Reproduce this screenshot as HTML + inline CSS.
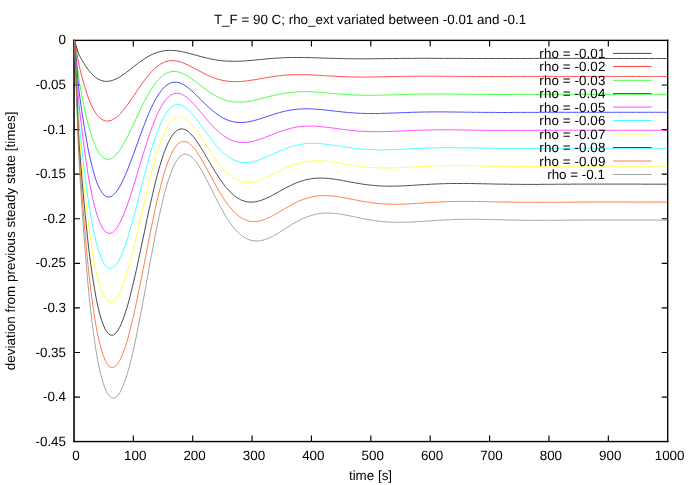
<!DOCTYPE html>
<html><head><meta charset="utf-8"><title>plot</title>
<style>html,body{margin:0;padding:0;background:#fff}svg{display:block;will-change:transform}text{font-family:"Liberation Sans",sans-serif;font-size:13.40px;fill:#000;text-rendering:geometricPrecision}</style></head>
<body>
<svg width="692" height="485" viewBox="0 0 692 485">
<rect x="0" y="0" width="692" height="485" fill="#ffffff"/>
<rect x="73.15" y="39.7" width="1.75" height="402.5" fill="#1c1c1c"/>
<rect x="667.05" y="39.7" width="1.35" height="402.5" fill="#000"/>
<rect x="73.2" y="39.7" width="595.2" height="1.35" fill="#000"/>
<rect x="73.2" y="440.85" width="595.2" height="1.4" fill="#000"/>
<path d="M133.32 441.55V435.55 M133.32 40.40V46.40 M192.70 441.55V435.55 M192.70 40.40V46.40 M252.07 441.55V435.55 M252.07 40.40V46.40 M311.45 441.55V435.55 M311.45 40.40V46.40 M370.82 441.55V435.55 M370.82 40.40V46.40 M430.20 441.55V435.55 M430.20 40.40V46.40 M489.57 441.55V435.55 M489.57 40.40V46.40 M548.95 441.55V435.55 M548.95 40.40V46.40 M608.33 441.55V435.55 M608.33 40.40V46.40 M73.95 84.97H79.95 M667.70 84.97H661.70 M73.95 129.56H79.95 M667.70 129.56H661.70 M73.95 174.16H79.95 M667.70 174.16H661.70 M73.95 218.75H79.95 M667.70 218.75H661.70 M73.95 263.34H79.95 M667.70 263.34H661.70 M73.95 307.94H79.95 M667.70 307.94H661.70 M73.95 352.53H79.95 M667.70 352.53H661.70 M73.95 397.13H79.95 M667.70 397.13H661.70" stroke="#000" stroke-width="1.15" fill="none"/>
<text x="370.05" y="24.3" text-anchor="middle">T_F = 90 C; rho_ext variated between -0.01 and -0.1</text>
<polyline fill="none" stroke="#000000" stroke-width="0.72" stroke-linejoin="round" points="74.5,40.5 78.5,53.6 79.2,55.1 79.8,56.2 80.4,57.3 81.0,58.4 81.6,59.5 82.2,60.5 82.8,61.5 83.4,62.5 84.0,63.5 84.6,64.4 85.2,65.4 85.8,66.3 86.4,67.1 87.0,68.0 87.5,68.8 88.1,69.6 88.7,70.4 89.3,71.1 89.9,71.8 90.5,72.5 91.1,73.2 91.7,73.8 92.3,74.5 92.9,75.0 93.5,75.6 94.1,76.1 94.7,76.6 95.3,77.1 95.8,77.6 96.4,78.0 97.0,78.4 97.6,78.8 98.2,79.1 99.4,79.7 100.6,80.2 101.8,80.7 103.0,81.0 104.2,81.2 105.3,81.3 106.5,81.4 107.7,81.3 108.9,81.2 110.1,81.0 111.3,80.7 112.5,80.4 113.6,79.9 114.8,79.5 116.0,78.9 117.2,78.3 118.4,77.7 119.6,77.0 120.8,76.3 121.9,75.5 123.1,74.7 124.3,73.8 125.5,73.0 126.7,72.1 127.9,71.2 129.1,70.3 130.2,69.4 131.4,68.4 132.6,67.5 133.8,66.6 135.0,65.6 136.2,64.7 137.4,63.8 138.5,62.9 139.7,62.0 140.9,61.2 142.1,60.4 143.3,59.5 144.5,58.8 145.7,58.0 146.8,57.3 148.0,56.6 149.2,55.9 150.4,55.3 151.6,54.7 152.8,54.2 154.0,53.7 155.1,53.2 156.3,52.7 157.5,52.3 158.7,52.0 159.9,51.7 161.1,51.4 162.3,51.1 163.4,50.9 164.6,50.7 165.8,50.6 167.0,50.5 168.2,50.4 169.4,50.4 170.6,50.4 171.8,50.4 172.9,50.5 174.1,50.5 175.3,50.6 176.5,50.8 177.7,50.9 178.9,51.1 180.1,51.3 181.2,51.5 182.4,51.8 183.6,52.0 184.8,52.3 186.0,52.6 187.2,52.9 188.4,53.2 189.5,53.5 190.7,53.8 191.9,54.1 193.1,54.4 194.3,54.8 195.5,55.1 196.7,55.4 197.8,55.7 199.0,56.1 200.2,56.4 201.4,56.7 202.6,57.0 203.8,57.3 205.0,57.6 206.1,57.9 207.3,58.2 208.5,58.4 209.7,58.7 210.9,59.0 212.1,59.2 213.3,59.4 214.4,59.6 215.6,59.8 216.8,60.0 218.0,60.2 219.2,60.4 220.4,60.5 221.6,60.6 222.8,60.8 223.9,60.9 225.1,61.0 226.3,61.0 227.5,61.1 228.7,61.2 229.9,61.2 231.1,61.2 232.2,61.3 233.4,61.3 234.6,61.3 235.8,61.3 237.0,61.2 238.2,61.2 239.4,61.2 240.5,61.1 241.7,61.1 242.9,61.0 244.1,60.9 245.3,60.8 246.5,60.8 247.7,60.7 248.8,60.6 250.0,60.5 251.2,60.4 252.4,60.3 253.6,60.2 254.8,60.1 256.0,59.9 257.1,59.8 258.3,59.7 259.5,59.6 260.7,59.5 261.9,59.4 263.1,59.3 264.3,59.1 265.4,59.0 266.6,58.9 267.8,58.8 269.0,58.7 270.2,58.6 271.4,58.5 272.6,58.4 273.7,58.3 274.9,58.3 276.1,58.2 277.3,58.1 278.5,58.0 279.7,58.0 280.9,57.9 282.1,57.8 283.2,57.8 284.4,57.7 285.6,57.7 286.8,57.6 288.0,57.6 289.2,57.6 290.4,57.5 291.5,57.5 292.7,57.5 293.9,57.5 295.1,57.5 296.3,57.5 297.5,57.5 298.7,57.5 299.8,57.5 301.0,57.5 302.2,57.5 303.4,57.5 304.6,57.5 305.8,57.6 307.0,57.6 308.1,57.6 309.3,57.6 310.5,57.7 311.7,57.7 312.9,57.7 314.1,57.8 315.3,57.8 316.4,57.8 317.6,57.9 318.8,57.9 320.0,57.9 321.2,58.0 322.4,58.0 323.6,58.1 324.7,58.1 325.9,58.1 327.1,58.2 328.3,58.2 329.5,58.3 330.7,58.3 331.9,58.3 333.0,58.4 334.2,58.4 335.4,58.4 336.6,58.5 337.8,58.5 339.0,58.5 340.2,58.6 341.4,58.6 342.5,58.6 343.7,58.6 344.9,58.7 346.1,58.7 347.3,58.7 348.5,58.7 349.7,58.7 350.8,58.7 352.0,58.8 353.2,58.8 354.4,58.8 355.6,58.8 356.8,58.8 358.0,58.8 359.1,58.8 360.3,58.8 361.5,58.8 362.7,58.8 363.9,58.8 365.1,58.8 366.3,58.8 367.4,58.8 368.6,58.8 369.8,58.8 371.0,58.8 372.2,58.8 373.4,58.7 374.6,58.7 375.7,58.7 376.9,58.7 378.1,58.7 379.3,58.7 380.5,58.7 381.7,58.7 382.9,58.6 384.0,58.6 385.2,58.6 386.4,58.6 387.6,58.6 388.8,58.6 390.0,58.6 391.2,58.5 392.3,58.5 393.5,58.5 394.7,58.5 395.9,58.5 397.1,58.5 398.3,58.5 399.5,58.5 400.6,58.4 401.8,58.4 403.0,58.4 404.2,58.4 405.4,58.4 406.6,58.4 407.8,58.4 409.0,58.4 410.1,58.4 411.3,58.4 412.5,58.4 413.7,58.4 414.9,58.4 416.1,58.3 417.3,58.3 418.4,58.3 419.6,58.3 420.8,58.3 422.0,58.3 423.2,58.3 424.4,58.3 425.6,58.3 426.7,58.3 427.9,58.3 429.1,58.3 430.3,58.3 431.5,58.3 432.7,58.3 433.9,58.3 435.0,58.3 436.2,58.4 437.4,58.4 438.6,58.4 439.8,58.4 441.0,58.4 442.2,58.4 443.3,58.4 444.5,58.4 445.7,58.4 446.9,58.4 448.1,58.4 449.3,58.4 450.5,58.4 451.6,58.4 452.8,58.4 454.0,58.4 455.2,58.4 456.4,58.4 457.6,58.4 458.8,58.4 459.9,58.4 461.1,58.4 462.3,58.5 463.5,58.5 464.7,58.5 465.9,58.5 467.1,58.5 468.3,58.5 469.4,58.5 470.6,58.5 471.8,58.5 473.0,58.5 474.2,58.5 475.4,58.5 476.6,58.5 477.7,58.5 478.9,58.5 480.1,58.5 481.3,58.5 482.5,58.5 483.7,58.5 484.9,58.5 486.0,58.5 487.2,58.5 488.4,58.5 489.6,58.5 490.8,58.5 492.0,58.5 493.2,58.5 494.3,58.5 495.5,58.5 496.7,58.5 497.9,58.5 499.1,58.5 500.3,58.5 501.5,58.5 502.6,58.5 503.8,58.5 505.0,58.5 506.2,58.5 507.4,58.5 508.6,58.5 509.8,58.5 510.9,58.5 512.1,58.5 513.3,58.5 514.5,58.5 515.7,58.5 516.9,58.5 518.1,58.5 519.2,58.5 520.4,58.5 521.6,58.5 522.8,58.5 524.0,58.5 525.2,58.5 526.4,58.5 527.6,58.5 528.7,58.5 529.9,58.5 531.1,58.5 532.3,58.5 533.5,58.4 534.7,58.4 535.9,58.4 537.0,58.4 538.2,58.4 539.4,58.4 540.6,58.4 541.8,58.4 543.0,58.4 544.2,58.4 545.3,58.4 546.5,58.4 547.7,58.4 548.9,58.4 550.1,58.4 551.3,58.4 552.5,58.4 553.6,58.4 554.8,58.4 556.0,58.4 557.2,58.4 558.4,58.4 559.6,58.4 560.8,58.4 561.9,58.4 563.1,58.4 564.3,58.4 565.5,58.4 566.7,58.4 567.9,58.4 569.1,58.4 570.2,58.4 571.4,58.4 572.6,58.4 573.8,58.4 575.0,58.4 576.2,58.4 577.4,58.4 578.5,58.5 579.7,58.5 580.9,58.5 582.1,58.5 583.3,58.5 584.5,58.5 585.7,58.5 586.9,58.5 588.0,58.5 589.2,58.5 590.4,58.5 591.6,58.5 592.8,58.5 594.0,58.5 595.2,58.5 596.3,58.5 597.5,58.5 598.7,58.5 599.9,58.5 601.1,58.5 602.3,58.5 603.5,58.5 604.6,58.5 605.8,58.5 607.0,58.5 608.2,58.5 609.4,58.5 610.6,58.5 611.8,58.5 612.9,58.5 614.1,58.5 615.3,58.5 616.5,58.5 617.7,58.5 618.9,58.5 620.1,58.5 621.2,58.5 622.4,58.5 623.6,58.5 624.8,58.5 626.0,58.5 627.2,58.5 628.4,58.5 629.5,58.5 630.7,58.5 631.9,58.5 633.1,58.5 634.3,58.5 635.5,58.5 636.7,58.5 637.9,58.5 639.0,58.5 640.2,58.5 641.4,58.5 642.6,58.5 643.8,58.5 645.0,58.5 646.2,58.5 647.3,58.5 648.5,58.5 649.7,58.5 650.9,58.5 652.1,58.5 653.3,58.5 654.5,58.5 655.6,58.5 656.8,58.5 658.0,58.5 659.2,58.5 660.4,58.5 661.6,58.5 662.8,58.5 663.9,58.5 665.1,58.5 666.3,58.5 667.5,58.5"/>
<polyline fill="none" stroke="#ff0000" stroke-width="0.72" stroke-linejoin="round" points="74.5,40.5 78.5,62.2 79.2,65.7 79.8,68.3 80.4,70.7 81.0,73.1 81.6,75.5 82.2,77.8 82.8,80.0 83.4,82.2 84.0,84.3 84.6,86.3 85.2,88.3 85.8,90.2 86.4,92.1 87.0,93.8 87.5,95.6 88.1,97.2 88.7,98.8 89.3,100.3 89.9,101.8 90.5,103.2 91.1,104.6 91.7,105.9 92.3,107.1 92.9,108.3 93.5,109.4 94.1,110.4 94.7,111.4 95.3,112.4 95.8,113.3 96.4,114.1 97.0,114.9 97.6,115.6 98.2,116.3 99.4,117.5 100.6,118.5 101.8,119.4 103.0,120.0 104.2,120.5 105.3,120.9 106.5,121.0 107.7,121.0 108.9,120.9 110.1,120.7 111.3,120.3 112.5,119.7 113.6,119.1 114.8,118.3 116.0,117.5 117.2,116.5 118.4,115.5 119.6,114.3 120.8,113.1 121.9,111.8 123.1,110.4 124.3,108.9 125.5,107.4 126.7,105.9 127.9,104.3 129.1,102.6 130.2,100.9 131.4,99.2 132.6,97.5 133.8,95.7 135.0,94.0 136.2,92.2 137.4,90.4 138.5,88.7 139.7,87.0 140.9,85.3 142.1,83.6 143.3,81.9 144.5,80.3 145.7,78.7 146.8,77.2 148.0,75.7 149.2,74.3 150.4,72.9 151.6,71.6 152.8,70.4 154.0,69.2 155.1,68.1 156.3,67.1 157.5,66.1 158.7,65.3 159.9,64.5 161.1,63.8 162.3,63.1 163.4,62.5 164.6,62.0 165.8,61.6 167.0,61.3 168.2,61.0 169.4,60.8 170.6,60.7 171.8,60.6 172.9,60.6 174.1,60.7 175.3,60.8 176.5,61.0 177.7,61.2 178.9,61.5 180.1,61.9 181.2,62.2 182.4,62.7 183.6,63.1 184.8,63.6 186.0,64.1 187.2,64.7 188.4,65.2 189.5,65.8 190.7,66.4 191.9,67.0 193.1,67.7 194.3,68.3 195.5,68.9 196.7,69.6 197.8,70.2 199.0,70.9 200.2,71.5 201.4,72.1 202.6,72.7 203.8,73.4 205.0,73.9 206.1,74.5 207.3,75.1 208.5,75.6 209.7,76.1 210.9,76.6 212.1,77.1 213.3,77.6 214.4,78.0 215.6,78.4 216.8,78.8 218.0,79.2 219.2,79.5 220.4,79.8 221.6,80.1 222.8,80.4 223.9,80.6 225.1,80.8 226.3,81.0 227.5,81.2 228.7,81.3 229.9,81.4 231.1,81.5 232.2,81.6 233.4,81.6 234.6,81.6 235.8,81.6 237.0,81.6 238.2,81.6 239.4,81.5 240.5,81.5 241.7,81.4 242.9,81.3 244.1,81.2 245.3,81.0 246.5,80.9 247.7,80.7 248.8,80.6 250.0,80.4 251.2,80.2 252.4,80.1 253.6,79.9 254.8,79.7 256.0,79.5 257.1,79.3 258.3,79.0 259.5,78.8 260.7,78.6 261.9,78.4 263.1,78.2 264.3,78.0 265.4,77.8 266.6,77.6 267.8,77.4 269.0,77.2 270.2,77.0 271.4,76.8 272.6,76.6 273.7,76.5 274.9,76.3 276.1,76.1 277.3,76.0 278.5,75.8 279.7,75.7 280.9,75.6 282.1,75.5 283.2,75.3 284.4,75.2 285.6,75.1 286.8,75.1 288.0,75.0 289.2,74.9 290.4,74.8 291.5,74.8 292.7,74.7 293.9,74.7 295.1,74.7 296.3,74.7 297.5,74.6 298.7,74.6 299.8,74.6 301.0,74.6 302.2,74.7 303.4,74.7 304.6,74.7 305.8,74.7 307.0,74.8 308.1,74.8 309.3,74.9 310.5,74.9 311.7,75.0 312.9,75.0 314.1,75.1 315.3,75.1 316.4,75.2 317.6,75.3 318.8,75.3 320.0,75.4 321.2,75.5 322.4,75.6 323.6,75.6 324.7,75.7 325.9,75.8 327.1,75.8 328.3,75.9 329.5,76.0 330.7,76.0 331.9,76.1 333.0,76.2 334.2,76.2 335.4,76.3 336.6,76.4 337.8,76.4 339.0,76.5 340.2,76.5 341.4,76.6 342.5,76.6 343.7,76.7 344.9,76.7 346.1,76.8 347.3,76.8 348.5,76.8 349.7,76.9 350.8,76.9 352.0,76.9 353.2,76.9 354.4,76.9 355.6,77.0 356.8,77.0 358.0,77.0 359.1,77.0 360.3,77.0 361.5,77.0 362.7,77.0 363.9,77.0 365.1,77.0 366.3,77.0 367.4,77.0 368.6,77.0 369.8,77.0 371.0,77.0 372.2,76.9 373.4,76.9 374.6,76.9 375.7,76.9 376.9,76.9 378.1,76.9 379.3,76.8 380.5,76.8 381.7,76.8 382.9,76.8 384.0,76.7 385.2,76.7 386.4,76.7 387.6,76.7 388.8,76.6 390.0,76.6 391.2,76.6 392.3,76.6 393.5,76.5 394.7,76.5 395.9,76.5 397.1,76.5 398.3,76.5 399.5,76.4 400.6,76.4 401.8,76.4 403.0,76.4 404.2,76.4 405.4,76.3 406.6,76.3 407.8,76.3 409.0,76.3 410.1,76.3 411.3,76.3 412.5,76.3 413.7,76.3 414.9,76.3 416.1,76.2 417.3,76.2 418.4,76.2 419.6,76.2 420.8,76.2 422.0,76.2 423.2,76.2 424.4,76.2 425.6,76.2 426.7,76.2 427.9,76.2 429.1,76.2 430.3,76.2 431.5,76.2 432.7,76.2 433.9,76.2 435.0,76.2 436.2,76.2 437.4,76.2 438.6,76.2 439.8,76.3 441.0,76.3 442.2,76.3 443.3,76.3 444.5,76.3 445.7,76.3 446.9,76.3 448.1,76.3 449.3,76.3 450.5,76.3 451.6,76.3 452.8,76.3 454.0,76.3 455.2,76.4 456.4,76.4 457.6,76.4 458.8,76.4 459.9,76.4 461.1,76.4 462.3,76.4 463.5,76.4 464.7,76.4 465.9,76.4 467.1,76.4 468.3,76.4 469.4,76.4 470.6,76.4 471.8,76.4 473.0,76.4 474.2,76.5 475.4,76.5 476.6,76.5 477.7,76.5 478.9,76.5 480.1,76.5 481.3,76.5 482.5,76.5 483.7,76.5 484.9,76.5 486.0,76.5 487.2,76.5 488.4,76.5 489.6,76.5 490.8,76.5 492.0,76.5 493.2,76.5 494.3,76.5 495.5,76.5 496.7,76.5 497.9,76.5 499.1,76.5 500.3,76.5 501.5,76.5 502.6,76.5 503.8,76.5 505.0,76.5 506.2,76.5 507.4,76.5 508.6,76.5 509.8,76.5 510.9,76.4 512.1,76.4 513.3,76.4 514.5,76.4 515.7,76.4 516.9,76.4 518.1,76.4 519.2,76.4 520.4,76.4 521.6,76.4 522.8,76.4 524.0,76.4 525.2,76.4 526.4,76.4 527.6,76.4 528.7,76.4 529.9,76.4 531.1,76.4 532.3,76.4 533.5,76.4 534.7,76.4 535.9,76.4 537.0,76.4 538.2,76.4 539.4,76.4 540.6,76.4 541.8,76.4 543.0,76.4 544.2,76.4 545.3,76.4 546.5,76.4 547.7,76.4 548.9,76.4 550.1,76.4 551.3,76.4 552.5,76.4 553.6,76.4 554.8,76.4 556.0,76.4 557.2,76.4 558.4,76.4 559.6,76.4 560.8,76.4 561.9,76.4 563.1,76.4 564.3,76.4 565.5,76.4 566.7,76.4 567.9,76.4 569.1,76.4 570.2,76.4 571.4,76.4 572.6,76.4 573.8,76.4 575.0,76.4 576.2,76.4 577.4,76.4 578.5,76.4 579.7,76.4 580.9,76.4 582.1,76.4 583.3,76.4 584.5,76.4 585.7,76.4 586.9,76.4 588.0,76.4 589.2,76.4 590.4,76.4 591.6,76.4 592.8,76.4 594.0,76.4 595.2,76.4 596.3,76.4 597.5,76.4 598.7,76.4 599.9,76.4 601.1,76.4 602.3,76.4 603.5,76.4 604.6,76.4 605.8,76.4 607.0,76.4 608.2,76.4 609.4,76.4 610.6,76.4 611.8,76.4 612.9,76.4 614.1,76.4 615.3,76.4 616.5,76.4 617.7,76.4 618.9,76.4 620.1,76.4 621.2,76.4 622.4,76.4 623.6,76.4 624.8,76.4 626.0,76.4 627.2,76.4 628.4,76.4 629.5,76.4 630.7,76.4 631.9,76.4 633.1,76.4 634.3,76.4 635.5,76.4 636.7,76.4 637.9,76.4 639.0,76.4 640.2,76.4 641.4,76.4 642.6,76.4 643.8,76.4 645.0,76.4 646.2,76.4 647.3,76.4 648.5,76.4 649.7,76.4 650.9,76.4 652.1,76.4 653.3,76.4 654.5,76.4 655.6,76.4 656.8,76.4 658.0,76.4 659.2,76.4 660.4,76.4 661.6,76.4 662.8,76.4 663.9,76.4 665.1,76.4 666.3,76.4 667.5,76.4"/>
<polyline fill="none" stroke="#00ff00" stroke-width="0.72" stroke-linejoin="round" points="74.5,40.5 78.5,76.5 79.2,81.1 79.8,84.5 80.4,87.8 81.0,91.0 81.6,94.2 82.2,97.3 82.8,100.3 83.4,103.2 84.0,106.1 84.6,108.9 85.2,111.6 85.8,114.2 86.4,116.8 87.0,119.3 87.5,121.7 88.1,124.0 88.7,126.2 89.3,128.4 89.9,130.5 90.5,132.5 91.1,134.4 91.7,136.3 92.3,138.0 92.9,139.7 93.5,141.3 94.1,142.9 94.7,144.4 95.3,145.8 95.8,147.1 96.4,148.3 97.0,149.5 97.6,150.6 98.2,151.6 99.4,153.5 100.6,155.1 101.8,156.4 103.0,157.5 104.2,158.3 105.3,158.9 106.5,159.2 107.7,159.4 108.9,159.3 110.1,159.0 111.3,158.5 112.5,157.8 113.6,156.9 114.8,155.9 116.0,154.7 117.2,153.3 118.4,151.8 119.6,150.2 120.8,148.5 121.9,146.6 123.1,144.6 124.3,142.5 125.5,140.4 126.7,138.1 127.9,135.8 129.1,133.4 130.2,131.0 131.4,128.6 132.6,126.1 133.8,123.6 135.0,121.0 136.2,118.5 137.4,116.0 138.5,113.5 139.7,111.0 140.9,108.5 142.1,106.1 143.3,103.7 144.5,101.4 145.7,99.1 146.8,96.9 148.0,94.8 149.2,92.7 150.4,90.7 151.6,88.8 152.8,87.0 154.0,85.3 155.1,83.7 156.3,82.1 157.5,80.7 158.7,79.4 159.9,78.1 161.1,77.0 162.3,76.0 163.4,75.1 164.6,74.3 165.8,73.6 167.0,73.0 168.2,72.5 169.4,72.1 170.6,71.8 171.8,71.6 172.9,71.4 174.1,71.4 175.3,71.5 176.5,71.6 177.7,71.8 178.9,72.1 180.1,72.5 181.2,72.9 182.4,73.4 183.6,73.9 184.8,74.5 186.0,75.2 187.2,75.9 188.4,76.6 189.5,77.4 190.7,78.2 191.9,79.0 193.1,79.9 194.3,80.7 195.5,81.6 196.7,82.5 197.8,83.4 199.0,84.3 200.2,85.3 201.4,86.2 202.6,87.1 203.8,88.0 205.0,88.8 206.1,89.7 207.3,90.5 208.5,91.4 209.7,92.2 210.9,93.0 212.1,93.7 213.3,94.5 214.4,95.2 215.6,95.8 216.8,96.5 218.0,97.1 219.2,97.6 220.4,98.2 221.6,98.7 222.8,99.2 223.9,99.6 225.1,100.0 226.3,100.4 227.5,100.7 228.7,101.0 229.9,101.2 231.1,101.5 232.2,101.7 233.4,101.8 234.6,101.9 235.8,102.0 237.0,102.1 238.2,102.1 239.4,102.1 240.5,102.1 241.7,102.1 242.9,102.0 244.1,101.9 245.3,101.8 246.5,101.6 247.7,101.5 248.8,101.3 250.0,101.1 251.2,100.9 252.4,100.6 253.6,100.4 254.8,100.1 256.0,99.9 257.1,99.6 258.3,99.3 259.5,99.0 260.7,98.7 261.9,98.4 263.1,98.1 264.3,97.8 265.4,97.5 266.6,97.2 267.8,96.9 269.0,96.6 270.2,96.3 271.4,96.0 272.6,95.7 273.7,95.4 274.9,95.2 276.1,94.9 277.3,94.6 278.5,94.4 279.7,94.1 280.9,93.9 282.1,93.7 283.2,93.5 284.4,93.3 285.6,93.1 286.8,92.9 288.0,92.8 289.2,92.6 290.4,92.5 291.5,92.3 292.7,92.2 293.9,92.1 295.1,92.0 296.3,91.9 297.5,91.9 298.7,91.8 299.8,91.8 301.0,91.7 302.2,91.7 303.4,91.7 304.6,91.7 305.8,91.7 307.0,91.7 308.1,91.7 309.3,91.8 310.5,91.8 311.7,91.9 312.9,91.9 314.1,92.0 315.3,92.0 316.4,92.1 317.6,92.2 318.8,92.3 320.0,92.4 321.2,92.5 322.4,92.6 323.6,92.7 324.7,92.8 325.9,92.9 327.1,93.0 328.3,93.1 329.5,93.2 330.7,93.3 331.9,93.4 333.0,93.5 334.2,93.6 335.4,93.7 336.6,93.8 337.8,93.9 339.0,94.0 340.2,94.1 341.4,94.2 342.5,94.3 343.7,94.4 344.9,94.4 346.1,94.5 347.3,94.6 348.5,94.7 349.7,94.7 350.8,94.8 352.0,94.9 353.2,94.9 354.4,95.0 355.6,95.0 356.8,95.1 358.0,95.1 359.1,95.1 360.3,95.2 361.5,95.2 362.7,95.2 363.9,95.2 365.1,95.3 366.3,95.3 367.4,95.3 368.6,95.3 369.8,95.3 371.0,95.3 372.2,95.3 373.4,95.3 374.6,95.3 375.7,95.2 376.9,95.2 378.1,95.2 379.3,95.2 380.5,95.2 381.7,95.1 382.9,95.1 384.0,95.1 385.2,95.1 386.4,95.0 387.6,95.0 388.8,95.0 390.0,94.9 391.2,94.9 392.3,94.8 393.5,94.8 394.7,94.8 395.9,94.7 397.1,94.7 398.3,94.7 399.5,94.6 400.6,94.6 401.8,94.6 403.0,94.5 404.2,94.5 405.4,94.5 406.6,94.4 407.8,94.4 409.0,94.4 410.1,94.3 411.3,94.3 412.5,94.3 413.7,94.3 414.9,94.2 416.1,94.2 417.3,94.2 418.4,94.2 419.6,94.2 420.8,94.1 422.0,94.1 423.2,94.1 424.4,94.1 425.6,94.1 426.7,94.1 427.9,94.1 429.1,94.1 430.3,94.1 431.5,94.1 432.7,94.1 433.9,94.1 435.0,94.1 436.2,94.1 437.4,94.1 438.6,94.1 439.8,94.1 441.0,94.1 442.2,94.1 443.3,94.1 444.5,94.1 445.7,94.1 446.9,94.1 448.1,94.1 449.3,94.1 450.5,94.1 451.6,94.1 452.8,94.2 454.0,94.2 455.2,94.2 456.4,94.2 457.6,94.2 458.8,94.2 459.9,94.2 461.1,94.2 462.3,94.3 463.5,94.3 464.7,94.3 465.9,94.3 467.1,94.3 468.3,94.3 469.4,94.3 470.6,94.3 471.8,94.3 473.0,94.4 474.2,94.4 475.4,94.4 476.6,94.4 477.7,94.4 478.9,94.4 480.1,94.4 481.3,94.4 482.5,94.4 483.7,94.4 484.9,94.4 486.0,94.4 487.2,94.4 488.4,94.5 489.6,94.5 490.8,94.5 492.0,94.5 493.2,94.5 494.3,94.5 495.5,94.5 496.7,94.5 497.9,94.5 499.1,94.5 500.3,94.5 501.5,94.5 502.6,94.5 503.8,94.5 505.0,94.5 506.2,94.5 507.4,94.5 508.6,94.5 509.8,94.5 510.9,94.5 512.1,94.5 513.3,94.5 514.5,94.5 515.7,94.4 516.9,94.4 518.1,94.4 519.2,94.4 520.4,94.4 521.6,94.4 522.8,94.4 524.0,94.4 525.2,94.4 526.4,94.4 527.6,94.4 528.7,94.4 529.9,94.4 531.1,94.4 532.3,94.4 533.5,94.4 534.7,94.4 535.9,94.4 537.0,94.4 538.2,94.4 539.4,94.4 540.6,94.4 541.8,94.4 543.0,94.4 544.2,94.4 545.3,94.4 546.5,94.4 547.7,94.3 548.9,94.3 550.1,94.3 551.3,94.3 552.5,94.3 553.6,94.3 554.8,94.3 556.0,94.3 557.2,94.3 558.4,94.3 559.6,94.3 560.8,94.3 561.9,94.3 563.1,94.3 564.3,94.3 565.5,94.3 566.7,94.3 567.9,94.3 569.1,94.3 570.2,94.3 571.4,94.3 572.6,94.3 573.8,94.3 575.0,94.3 576.2,94.3 577.4,94.3 578.5,94.3 579.7,94.3 580.9,94.3 582.1,94.3 583.3,94.3 584.5,94.3 585.7,94.3 586.9,94.3 588.0,94.3 589.2,94.3 590.4,94.4 591.6,94.4 592.8,94.4 594.0,94.4 595.2,94.4 596.3,94.4 597.5,94.4 598.7,94.4 599.9,94.4 601.1,94.4 602.3,94.4 603.5,94.4 604.6,94.4 605.8,94.4 607.0,94.4 608.2,94.4 609.4,94.4 610.6,94.4 611.8,94.4 612.9,94.4 614.1,94.4 615.3,94.4 616.5,94.4 617.7,94.4 618.9,94.4 620.1,94.4 621.2,94.4 622.4,94.4 623.6,94.4 624.8,94.4 626.0,94.4 627.2,94.4 628.4,94.4 629.5,94.4 630.7,94.4 631.9,94.4 633.1,94.4 634.3,94.4 635.5,94.4 636.7,94.4 637.9,94.4 639.0,94.4 640.2,94.4 641.4,94.4 642.6,94.4 643.8,94.4 645.0,94.4 646.2,94.4 647.3,94.4 648.5,94.4 649.7,94.4 650.9,94.4 652.1,94.4 653.3,94.4 654.5,94.4 655.6,94.4 656.8,94.4 658.0,94.4 659.2,94.4 660.4,94.4 661.6,94.4 662.8,94.4 663.9,94.4 665.1,94.4 666.3,94.4 667.5,94.4"/>
<polyline fill="none" stroke="#0000ff" stroke-width="0.72" stroke-linejoin="round" points="74.5,40.5 78.5,86.4 79.2,92.5 79.8,96.9 80.4,101.2 81.0,105.5 81.6,109.6 82.2,113.7 82.8,117.7 83.4,121.5 84.0,125.3 84.6,128.9 85.2,132.5 85.8,136.0 86.4,139.3 87.0,142.6 87.5,145.7 88.1,148.8 88.7,151.7 89.3,154.6 89.9,157.3 90.5,160.0 91.1,162.5 91.7,165.0 92.3,167.4 92.9,169.6 93.5,171.8 94.1,173.8 94.7,175.8 95.3,177.7 95.8,179.5 96.4,181.1 97.0,182.7 97.6,184.2 98.2,185.7 99.4,188.2 100.6,190.4 101.8,192.3 103.0,193.9 104.2,195.1 105.3,196.0 106.5,196.7 107.7,197.0 108.9,197.1 110.1,196.9 111.3,196.4 112.5,195.7 113.6,194.7 114.8,193.5 116.0,192.2 117.2,190.6 118.4,188.8 119.6,186.8 120.8,184.7 121.9,182.4 123.1,179.9 124.3,177.3 125.5,174.6 126.7,171.8 127.9,168.9 129.1,165.9 130.2,162.8 131.4,159.7 132.6,156.5 133.8,153.3 135.0,150.0 136.2,146.7 137.4,143.4 138.5,140.1 139.7,136.9 140.9,133.6 142.1,130.4 143.3,127.3 144.5,124.2 145.7,121.2 146.8,118.2 148.0,115.3 149.2,112.5 150.4,109.8 151.6,107.3 152.8,104.8 154.0,102.4 155.1,100.2 156.3,98.1 157.5,96.1 158.7,94.2 159.9,92.5 161.1,90.9 162.3,89.4 163.4,88.1 164.6,86.9 165.8,85.9 167.0,85.0 168.2,84.2 169.4,83.5 170.6,83.0 171.8,82.6 172.9,82.3 174.1,82.2 175.3,82.2 176.5,82.2 177.7,82.4 178.9,82.7 180.1,83.1 181.2,83.5 182.4,84.1 183.6,84.7 184.8,85.5 186.0,86.2 187.2,87.1 188.4,88.0 189.5,88.9 190.7,89.9 191.9,91.0 193.1,92.1 194.3,93.2 195.5,94.3 196.7,95.5 197.8,96.6 199.0,97.8 200.2,99.0 201.4,100.2 202.6,101.4 203.8,102.6 205.0,103.7 206.1,104.9 207.3,106.0 208.5,107.1 209.7,108.2 210.9,109.3 212.1,110.3 213.3,111.3 214.4,112.2 215.6,113.1 216.8,114.0 218.0,114.9 219.2,115.7 220.4,116.4 221.6,117.1 222.8,117.8 223.9,118.4 225.1,119.0 226.3,119.5 227.5,120.0 228.7,120.5 229.9,120.9 231.1,121.2 232.2,121.5 233.4,121.8 234.6,122.0 235.8,122.2 237.0,122.3 238.2,122.4 239.4,122.5 240.5,122.5 241.7,122.5 242.9,122.5 244.1,122.4 245.3,122.3 246.5,122.1 247.7,121.9 248.8,121.7 250.0,121.5 251.2,121.3 252.4,121.0 253.6,120.7 254.8,120.4 256.0,120.1 257.1,119.7 258.3,119.4 259.5,119.0 260.7,118.6 261.9,118.3 263.1,117.9 264.3,117.5 265.4,117.1 266.6,116.7 267.8,116.3 269.0,115.9 270.2,115.5 271.4,115.1 272.6,114.7 273.7,114.3 274.9,114.0 276.1,113.6 277.3,113.2 278.5,112.9 279.7,112.6 280.9,112.2 282.1,111.9 283.2,111.6 284.4,111.3 285.6,111.1 286.8,110.8 288.0,110.6 289.2,110.4 290.4,110.1 291.5,110.0 292.7,109.8 293.9,109.6 295.1,109.5 296.3,109.3 297.5,109.2 298.7,109.1 299.8,109.0 301.0,109.0 302.2,108.9 303.4,108.9 304.6,108.8 305.8,108.8 307.0,108.8 308.1,108.8 309.3,108.9 310.5,108.9 311.7,108.9 312.9,109.0 314.1,109.1 315.3,109.1 316.4,109.2 317.6,109.3 318.8,109.4 320.0,109.5 321.2,109.6 322.4,109.7 323.6,109.8 324.7,110.0 325.9,110.1 327.1,110.2 328.3,110.4 329.5,110.5 330.7,110.6 331.9,110.8 333.0,110.9 334.2,111.0 335.4,111.2 336.6,111.3 337.8,111.5 339.0,111.6 340.2,111.7 341.4,111.8 342.5,112.0 343.7,112.1 344.9,112.2 346.1,112.3 347.3,112.4 348.5,112.5 349.7,112.6 350.8,112.7 352.0,112.8 353.2,112.9 354.4,113.0 355.6,113.0 356.8,113.1 358.0,113.2 359.1,113.2 360.3,113.3 361.5,113.3 362.7,113.4 363.9,113.4 365.1,113.4 366.3,113.5 367.4,113.5 368.6,113.5 369.8,113.5 371.0,113.5 372.2,113.5 373.4,113.5 374.6,113.5 375.7,113.5 376.9,113.5 378.1,113.5 379.3,113.5 380.5,113.4 381.7,113.4 382.9,113.4 384.0,113.3 385.2,113.3 386.4,113.3 387.6,113.2 388.8,113.2 390.0,113.1 391.2,113.1 392.3,113.1 393.5,113.0 394.7,113.0 395.9,112.9 397.1,112.9 398.3,112.8 399.5,112.8 400.6,112.7 401.8,112.7 403.0,112.6 404.2,112.6 405.4,112.6 406.6,112.5 407.8,112.5 409.0,112.4 410.1,112.4 411.3,112.3 412.5,112.3 413.7,112.3 414.9,112.2 416.1,112.2 417.3,112.2 418.4,112.1 419.6,112.1 420.8,112.1 422.0,112.1 423.2,112.0 424.4,112.0 425.6,112.0 426.7,112.0 427.9,112.0 429.1,112.0 430.3,111.9 431.5,111.9 432.7,111.9 433.9,111.9 435.0,111.9 436.2,111.9 437.4,111.9 438.6,111.9 439.8,111.9 441.0,111.9 442.2,111.9 443.3,111.9 444.5,111.9 445.7,111.9 446.9,111.9 448.1,112.0 449.3,112.0 450.5,112.0 451.6,112.0 452.8,112.0 454.0,112.0 455.2,112.0 456.4,112.0 457.6,112.1 458.8,112.1 459.9,112.1 461.1,112.1 462.3,112.1 463.5,112.1 464.7,112.2 465.9,112.2 467.1,112.2 468.3,112.2 469.4,112.2 470.6,112.2 471.8,112.3 473.0,112.3 474.2,112.3 475.4,112.3 476.6,112.3 477.7,112.3 478.9,112.3 480.1,112.3 481.3,112.4 482.5,112.4 483.7,112.4 484.9,112.4 486.0,112.4 487.2,112.4 488.4,112.4 489.6,112.4 490.8,112.4 492.0,112.4 493.2,112.4 494.3,112.4 495.5,112.5 496.7,112.5 497.9,112.5 499.1,112.5 500.3,112.5 501.5,112.5 502.6,112.5 503.8,112.5 505.0,112.5 506.2,112.5 507.4,112.5 508.6,112.5 509.8,112.5 510.9,112.5 512.1,112.5 513.3,112.4 514.5,112.4 515.7,112.4 516.9,112.4 518.1,112.4 519.2,112.4 520.4,112.4 521.6,112.4 522.8,112.4 524.0,112.4 525.2,112.4 526.4,112.4 527.6,112.4 528.7,112.4 529.9,112.4 531.1,112.4 532.3,112.4 533.5,112.4 534.7,112.4 535.9,112.4 537.0,112.4 538.2,112.3 539.4,112.3 540.6,112.3 541.8,112.3 543.0,112.3 544.2,112.3 545.3,112.3 546.5,112.3 547.7,112.3 548.9,112.3 550.1,112.3 551.3,112.3 552.5,112.3 553.6,112.3 554.8,112.3 556.0,112.3 557.2,112.3 558.4,112.3 559.6,112.3 560.8,112.3 561.9,112.3 563.1,112.3 564.3,112.3 565.5,112.3 566.7,112.3 567.9,112.3 569.1,112.3 570.2,112.3 571.4,112.3 572.6,112.3 573.8,112.3 575.0,112.3 576.2,112.3 577.4,112.3 578.5,112.3 579.7,112.3 580.9,112.3 582.1,112.3 583.3,112.3 584.5,112.3 585.7,112.3 586.9,112.3 588.0,112.3 589.2,112.3 590.4,112.3 591.6,112.3 592.8,112.3 594.0,112.3 595.2,112.3 596.3,112.3 597.5,112.3 598.7,112.3 599.9,112.3 601.1,112.3 602.3,112.3 603.5,112.3 604.6,112.3 605.8,112.3 607.0,112.3 608.2,112.3 609.4,112.3 610.6,112.3 611.8,112.3 612.9,112.3 614.1,112.3 615.3,112.3 616.5,112.3 617.7,112.3 618.9,112.3 620.1,112.3 621.2,112.3 622.4,112.3 623.6,112.3 624.8,112.3 626.0,112.3 627.2,112.3 628.4,112.3 629.5,112.3 630.7,112.3 631.9,112.3 633.1,112.3 634.3,112.3 635.5,112.3 636.7,112.3 637.9,112.3 639.0,112.3 640.2,112.3 641.4,112.3 642.6,112.3 643.8,112.3 645.0,112.3 646.2,112.3 647.3,112.3 648.5,112.3 649.7,112.3 650.9,112.3 652.1,112.3 653.3,112.3 654.5,112.3 655.6,112.3 656.8,112.3 658.0,112.3 659.2,112.3 660.4,112.3 661.6,112.3 662.8,112.3 663.9,112.3 665.1,112.3 666.3,112.3 667.5,112.3"/>
<polyline fill="none" stroke="#ff00ff" stroke-width="0.72" stroke-linejoin="round" points="74.5,40.5 78.5,98.8 79.2,106.2 79.8,111.7 80.4,117.0 81.0,122.1 81.6,127.2 82.2,132.1 82.8,136.9 83.4,141.5 84.0,146.1 84.6,150.5 85.2,154.8 85.8,158.9 86.4,162.9 87.0,166.8 87.5,170.6 88.1,174.3 88.7,177.8 89.3,181.2 89.9,184.5 90.5,187.6 91.1,190.7 91.7,193.6 92.3,196.4 92.9,199.1 93.5,201.7 94.1,204.2 94.7,206.5 95.3,208.8 95.8,210.9 96.4,212.9 97.0,214.9 97.6,216.7 98.2,218.4 99.4,221.5 100.6,224.3 101.8,226.6 103.0,228.6 104.2,230.2 105.3,231.5 106.5,232.4 107.7,233.0 108.9,233.3 110.1,233.3 111.3,233.0 112.5,232.4 113.6,231.5 114.8,230.4 116.0,229.0 117.2,227.3 118.4,225.4 119.6,223.3 120.8,221.0 121.9,218.5 123.1,215.8 124.3,212.9 125.5,209.9 126.7,206.7 127.9,203.4 129.1,199.9 130.2,196.4 131.4,192.7 132.6,188.9 133.8,185.1 135.0,181.3 136.2,177.3 137.4,173.4 138.5,169.4 139.7,165.4 140.9,161.5 142.1,157.6 143.3,153.7 144.5,149.8 145.7,146.0 146.8,142.3 148.0,138.7 149.2,135.1 150.4,131.7 151.6,128.4 152.8,125.2 154.0,122.1 155.1,119.1 156.3,116.4 157.5,113.7 158.7,111.2 159.9,108.9 161.1,106.7 162.3,104.7 163.4,102.8 164.6,101.2 165.8,99.6 167.0,98.3 168.2,97.1 169.4,96.1 170.6,95.2 171.8,94.5 172.9,94.0 174.1,93.6 175.3,93.4 176.5,93.3 177.7,93.3 178.9,93.4 180.1,93.7 181.2,94.1 182.4,94.7 183.6,95.3 184.8,96.0 186.0,96.9 187.2,97.8 188.4,98.8 189.5,99.8 190.7,101.0 191.9,102.1 193.1,103.4 194.3,104.7 195.5,106.0 196.7,107.4 197.8,108.7 199.0,110.1 200.2,111.6 201.4,113.0 202.6,114.4 203.8,115.8 205.0,117.3 206.1,118.7 207.3,120.1 208.5,121.5 209.7,122.8 210.9,124.1 212.1,125.4 213.3,126.7 214.4,127.9 215.6,129.1 216.8,130.2 218.0,131.3 219.2,132.4 220.4,133.4 221.6,134.3 222.8,135.2 223.9,136.1 225.1,136.9 226.3,137.6 227.5,138.3 228.7,138.9 229.9,139.5 231.1,140.0 232.2,140.5 233.4,140.9 234.6,141.3 235.8,141.6 237.0,141.9 238.2,142.1 239.4,142.3 240.5,142.4 241.7,142.5 242.9,142.5 244.1,142.5 245.3,142.5 246.5,142.4 247.7,142.3 248.8,142.1 250.0,141.9 251.2,141.7 252.4,141.4 253.6,141.2 254.8,140.8 256.0,140.5 257.1,140.1 258.3,139.8 259.5,139.4 260.7,139.0 261.9,138.5 263.1,138.1 264.3,137.7 265.4,137.2 266.6,136.7 267.8,136.3 269.0,135.8 270.2,135.3 271.4,134.9 272.6,134.4 273.7,133.9 274.9,133.5 276.1,133.0 277.3,132.6 278.5,132.1 279.7,131.7 280.9,131.3 282.1,130.9 283.2,130.5 284.4,130.1 285.6,129.7 286.8,129.4 288.0,129.1 289.2,128.7 290.4,128.4 291.5,128.2 292.7,127.9 293.9,127.7 295.1,127.4 296.3,127.2 297.5,127.0 298.7,126.9 299.8,126.7 301.0,126.6 302.2,126.5 303.4,126.4 304.6,126.3 305.8,126.2 307.0,126.2 308.1,126.1 309.3,126.1 310.5,126.1 311.7,126.1 312.9,126.1 314.1,126.2 315.3,126.2 316.4,126.3 317.6,126.4 318.8,126.5 320.0,126.6 321.2,126.7 322.4,126.8 323.6,126.9 324.7,127.0 325.9,127.2 327.1,127.3 328.3,127.4 329.5,127.6 330.7,127.7 331.9,127.9 333.0,128.1 334.2,128.2 335.4,128.4 336.6,128.5 337.8,128.7 339.0,128.9 340.2,129.0 341.4,129.2 342.5,129.3 343.7,129.5 344.9,129.6 346.1,129.8 347.3,129.9 348.5,130.1 349.7,130.2 350.8,130.3 352.0,130.4 353.2,130.6 354.4,130.7 355.6,130.8 356.8,130.9 358.0,131.0 359.1,131.1 360.3,131.2 361.5,131.2 362.7,131.3 363.9,131.4 365.1,131.4 366.3,131.5 367.4,131.5 368.6,131.6 369.8,131.6 371.0,131.6 372.2,131.6 373.4,131.7 374.6,131.7 375.7,131.7 376.9,131.7 378.1,131.7 379.3,131.7 380.5,131.7 381.7,131.6 382.9,131.6 384.0,131.6 385.2,131.6 386.4,131.5 387.6,131.5 388.8,131.5 390.0,131.4 391.2,131.4 392.3,131.3 393.5,131.3 394.7,131.2 395.9,131.2 397.1,131.1 398.3,131.1 399.5,131.0 400.6,131.0 401.8,130.9 403.0,130.9 404.2,130.8 405.4,130.8 406.6,130.7 407.8,130.7 409.0,130.6 410.1,130.6 411.3,130.5 412.5,130.5 413.7,130.4 414.9,130.4 416.1,130.3 417.3,130.3 418.4,130.2 419.6,130.2 420.8,130.2 422.0,130.1 423.2,130.1 424.4,130.1 425.6,130.0 426.7,130.0 427.9,130.0 429.1,129.9 430.3,129.9 431.5,129.9 432.7,129.9 433.9,129.9 435.0,129.8 436.2,129.8 437.4,129.8 438.6,129.8 439.8,129.8 441.0,129.8 442.2,129.8 443.3,129.8 444.5,129.8 445.7,129.8 446.9,129.8 448.1,129.8 449.3,129.8 450.5,129.8 451.6,129.8 452.8,129.8 454.0,129.9 455.2,129.9 456.4,129.9 457.6,129.9 458.8,129.9 459.9,129.9 461.1,129.9 462.3,130.0 463.5,130.0 464.7,130.0 465.9,130.0 467.1,130.0 468.3,130.1 469.4,130.1 470.6,130.1 471.8,130.1 473.0,130.1 474.2,130.1 475.4,130.2 476.6,130.2 477.7,130.2 478.9,130.2 480.1,130.2 481.3,130.2 482.5,130.3 483.7,130.3 484.9,130.3 486.0,130.3 487.2,130.3 488.4,130.3 489.6,130.3 490.8,130.4 492.0,130.4 493.2,130.4 494.3,130.4 495.5,130.4 496.7,130.4 497.9,130.4 499.1,130.4 500.3,130.4 501.5,130.4 502.6,130.4 503.8,130.4 505.0,130.4 506.2,130.4 507.4,130.4 508.6,130.4 509.8,130.4 510.9,130.4 512.1,130.4 513.3,130.4 514.5,130.4 515.7,130.4 516.9,130.4 518.1,130.4 519.2,130.4 520.4,130.4 521.6,130.4 522.8,130.4 524.0,130.4 525.2,130.4 526.4,130.4 527.6,130.4 528.7,130.4 529.9,130.4 531.1,130.4 532.3,130.4 533.5,130.4 534.7,130.4 535.9,130.4 537.0,130.3 538.2,130.3 539.4,130.3 540.6,130.3 541.8,130.3 543.0,130.3 544.2,130.3 545.3,130.3 546.5,130.3 547.7,130.3 548.9,130.3 550.1,130.3 551.3,130.3 552.5,130.3 553.6,130.3 554.8,130.3 556.0,130.3 557.2,130.3 558.4,130.3 559.6,130.2 560.8,130.2 561.9,130.2 563.1,130.2 564.3,130.2 565.5,130.2 566.7,130.2 567.9,130.2 569.1,130.2 570.2,130.2 571.4,130.2 572.6,130.2 573.8,130.2 575.0,130.2 576.2,130.2 577.4,130.2 578.5,130.2 579.7,130.2 580.9,130.2 582.1,130.2 583.3,130.2 584.5,130.2 585.7,130.2 586.9,130.2 588.0,130.2 589.2,130.2 590.4,130.2 591.6,130.2 592.8,130.2 594.0,130.2 595.2,130.2 596.3,130.2 597.5,130.2 598.7,130.2 599.9,130.3 601.1,130.3 602.3,130.3 603.5,130.3 604.6,130.3 605.8,130.3 607.0,130.3 608.2,130.3 609.4,130.3 610.6,130.3 611.8,130.3 612.9,130.3 614.1,130.3 615.3,130.3 616.5,130.3 617.7,130.3 618.9,130.3 620.1,130.3 621.2,130.3 622.4,130.3 623.6,130.3 624.8,130.3 626.0,130.3 627.2,130.3 628.4,130.3 629.5,130.3 630.7,130.3 631.9,130.3 633.1,130.3 634.3,130.3 635.5,130.3 636.7,130.3 637.9,130.3 639.0,130.3 640.2,130.3 641.4,130.3 642.6,130.3 643.8,130.3 645.0,130.3 646.2,130.3 647.3,130.3 648.5,130.3 649.7,130.3 650.9,130.3 652.1,130.3 653.3,130.3 654.5,130.3 655.6,130.3 656.8,130.3 658.0,130.3 659.2,130.3 660.4,130.3 661.6,130.3 662.8,130.3 663.9,130.3 665.1,130.3 666.3,130.3 667.5,130.3"/>
<polyline fill="none" stroke="#00ffff" stroke-width="0.72" stroke-linejoin="round" points="74.5,40.5 78.5,114.1 79.2,122.5 79.8,128.6 80.4,134.6 81.0,140.4 81.6,146.1 82.2,151.6 82.8,157.0 83.4,162.2 84.0,167.3 84.6,172.3 85.2,177.1 85.8,181.7 86.4,186.3 87.0,190.7 87.5,194.9 88.1,199.0 88.7,203.0 89.3,206.8 89.9,210.5 90.5,214.1 91.1,217.6 91.7,220.9 92.3,224.1 92.9,227.1 93.5,230.1 94.1,232.9 94.7,235.6 95.3,238.2 95.8,240.7 96.4,243.0 97.0,245.2 97.6,247.4 98.2,249.4 99.4,253.1 100.6,256.3 101.8,259.2 103.0,261.7 104.2,263.7 105.3,265.4 106.5,266.7 107.7,267.6 108.9,268.2 110.1,268.4 111.3,268.3 112.5,267.9 113.6,267.2 114.8,266.1 116.0,264.8 117.2,263.1 118.4,261.2 119.6,259.0 120.8,256.6 121.9,253.9 123.1,251.0 124.3,247.8 125.5,244.5 126.7,241.0 127.9,237.2 129.1,233.4 130.2,229.3 131.4,225.2 132.6,220.9 133.8,216.5 135.0,212.1 136.2,207.5 137.4,202.9 138.5,198.3 139.7,193.7 140.9,189.0 142.1,184.4 143.3,179.7 144.5,175.2 145.7,170.7 146.8,166.2 148.0,161.9 149.2,157.6 150.4,153.5 151.6,149.4 152.8,145.5 154.0,141.8 155.1,138.2 156.3,134.8 157.5,131.5 158.7,128.4 159.9,125.5 161.1,122.8 162.3,120.2 163.4,117.9 164.6,115.7 165.8,113.8 167.0,112.0 168.2,110.4 169.4,109.0 170.6,107.9 171.8,106.9 172.9,106.1 174.1,105.4 175.3,105.0 176.5,104.7 177.7,104.6 178.9,104.6 180.1,104.8 181.2,105.1 182.4,105.6 183.6,106.2 184.8,106.9 186.0,107.8 187.2,108.7 188.4,109.8 189.5,110.9 190.7,112.2 191.9,113.5 193.1,114.8 194.3,116.3 195.5,117.7 196.7,119.3 197.8,120.8 199.0,122.4 200.2,124.1 201.4,125.7 202.6,127.4 203.8,129.0 205.0,130.7 206.1,132.3 207.3,134.0 208.5,135.6 209.7,137.2 210.9,138.8 212.1,140.3 213.3,141.8 214.4,143.3 215.6,144.7 216.8,146.1 218.0,147.4 219.2,148.7 220.4,150.0 221.6,151.2 222.8,152.3 223.9,153.4 225.1,154.4 226.3,155.3 227.5,156.2 228.7,157.1 229.9,157.8 231.1,158.6 232.2,159.2 233.4,159.8 234.6,160.3 235.8,160.8 237.0,161.2 238.2,161.6 239.4,161.9 240.5,162.1 241.7,162.3 242.9,162.4 244.1,162.5 245.3,162.6 246.5,162.5 247.7,162.5 248.8,162.4 250.0,162.2 251.2,162.0 252.4,161.8 253.6,161.6 254.8,161.3 256.0,160.9 257.1,160.6 258.3,160.2 259.5,159.8 260.7,159.3 261.9,158.9 263.1,158.4 264.3,157.9 265.4,157.4 266.6,156.9 267.8,156.4 269.0,155.8 270.2,155.3 271.4,154.8 272.6,154.2 273.7,153.7 274.9,153.1 276.1,152.6 277.3,152.1 278.5,151.5 279.7,151.0 280.9,150.5 282.1,150.0 283.2,149.5 284.4,149.0 285.6,148.6 286.8,148.2 288.0,147.7 289.2,147.3 290.4,146.9 291.5,146.6 292.7,146.2 293.9,145.9 295.1,145.6 296.3,145.3 297.5,145.0 298.7,144.8 299.8,144.5 301.0,144.3 302.2,144.2 303.4,144.0 304.6,143.8 305.8,143.7 307.0,143.6 308.1,143.5 309.3,143.5 310.5,143.4 311.7,143.4 312.9,143.4 314.1,143.4 315.3,143.4 316.4,143.4 317.6,143.5 318.8,143.6 320.0,143.6 321.2,143.7 322.4,143.8 323.6,143.9 324.7,144.1 325.9,144.2 327.1,144.3 328.3,144.5 329.5,144.6 330.7,144.8 331.9,145.0 333.0,145.2 334.2,145.3 335.4,145.5 336.6,145.7 337.8,145.9 339.0,146.1 340.2,146.2 341.4,146.4 342.5,146.6 343.7,146.8 344.9,147.0 346.1,147.1 347.3,147.3 348.5,147.5 349.7,147.7 350.8,147.8 352.0,148.0 353.2,148.1 354.4,148.3 355.6,148.4 356.8,148.6 358.0,148.7 359.1,148.8 360.3,148.9 361.5,149.0 362.7,149.1 363.9,149.2 365.1,149.3 366.3,149.4 367.4,149.5 368.6,149.5 369.8,149.6 371.0,149.7 372.2,149.7 373.4,149.8 374.6,149.8 375.7,149.8 376.9,149.8 378.1,149.9 379.3,149.9 380.5,149.9 381.7,149.9 382.9,149.9 384.0,149.8 385.2,149.8 386.4,149.8 387.6,149.8 388.8,149.7 390.0,149.7 391.2,149.7 392.3,149.6 393.5,149.6 394.7,149.5 395.9,149.5 397.1,149.4 398.3,149.4 399.5,149.3 400.6,149.3 401.8,149.2 403.0,149.2 404.2,149.1 405.4,149.0 406.6,149.0 407.8,148.9 409.0,148.8 410.1,148.8 411.3,148.7 412.5,148.7 413.7,148.6 414.9,148.5 416.1,148.5 417.3,148.4 418.4,148.4 419.6,148.3 420.8,148.3 422.0,148.2 423.2,148.2 424.4,148.1 425.6,148.1 426.7,148.0 427.9,148.0 429.1,148.0 430.3,147.9 431.5,147.9 432.7,147.9 433.9,147.8 435.0,147.8 436.2,147.8 437.4,147.8 438.6,147.8 439.8,147.7 441.0,147.7 442.2,147.7 443.3,147.7 444.5,147.7 445.7,147.7 446.9,147.7 448.1,147.7 449.3,147.7 450.5,147.7 451.6,147.7 452.8,147.7 454.0,147.7 455.2,147.7 456.4,147.7 457.6,147.7 458.8,147.8 459.9,147.8 461.1,147.8 462.3,147.8 463.5,147.8 464.7,147.8 465.9,147.8 467.1,147.9 468.3,147.9 469.4,147.9 470.6,147.9 471.8,147.9 473.0,148.0 474.2,148.0 475.4,148.0 476.6,148.0 477.7,148.1 478.9,148.1 480.1,148.1 481.3,148.1 482.5,148.1 483.7,148.2 484.9,148.2 486.0,148.2 487.2,148.2 488.4,148.2 489.6,148.2 490.8,148.3 492.0,148.3 493.2,148.3 494.3,148.3 495.5,148.3 496.7,148.3 497.9,148.3 499.1,148.3 500.3,148.4 501.5,148.4 502.6,148.4 503.8,148.4 505.0,148.4 506.2,148.4 507.4,148.4 508.6,148.4 509.8,148.4 510.9,148.4 512.1,148.4 513.3,148.4 514.5,148.4 515.7,148.4 516.9,148.4 518.1,148.4 519.2,148.4 520.4,148.4 521.6,148.4 522.8,148.4 524.0,148.4 525.2,148.4 526.4,148.4 527.6,148.4 528.7,148.4 529.9,148.4 531.1,148.4 532.3,148.4 533.5,148.4 534.7,148.4 535.9,148.4 537.0,148.3 538.2,148.3 539.4,148.3 540.6,148.3 541.8,148.3 543.0,148.3 544.2,148.3 545.3,148.3 546.5,148.3 547.7,148.3 548.9,148.3 550.1,148.3 551.3,148.3 552.5,148.3 553.6,148.3 554.8,148.2 556.0,148.2 557.2,148.2 558.4,148.2 559.6,148.2 560.8,148.2 561.9,148.2 563.1,148.2 564.3,148.2 565.5,148.2 566.7,148.2 567.9,148.2 569.1,148.2 570.2,148.2 571.4,148.2 572.6,148.2 573.8,148.2 575.0,148.2 576.2,148.2 577.4,148.2 578.5,148.2 579.7,148.2 580.9,148.2 582.1,148.2 583.3,148.2 584.5,148.2 585.7,148.2 586.9,148.2 588.0,148.2 589.2,148.2 590.4,148.2 591.6,148.2 592.8,148.2 594.0,148.2 595.2,148.2 596.3,148.2 597.5,148.2 598.7,148.2 599.9,148.2 601.1,148.2 602.3,148.2 603.5,148.2 604.6,148.2 605.8,148.2 607.0,148.2 608.2,148.2 609.4,148.2 610.6,148.2 611.8,148.2 612.9,148.2 614.1,148.2 615.3,148.2 616.5,148.2 617.7,148.2 618.9,148.2 620.1,148.2 621.2,148.2 622.4,148.2 623.6,148.2 624.8,148.2 626.0,148.2 627.2,148.2 628.4,148.2 629.5,148.2 630.7,148.2 631.9,148.2 633.1,148.2 634.3,148.2 635.5,148.2 636.7,148.3 637.9,148.3 639.0,148.3 640.2,148.3 641.4,148.3 642.6,148.3 643.8,148.3 645.0,148.3 646.2,148.3 647.3,148.3 648.5,148.3 649.7,148.3 650.9,148.3 652.1,148.3 653.3,148.3 654.5,148.3 655.6,148.3 656.8,148.3 658.0,148.3 659.2,148.3 660.4,148.3 661.6,148.3 662.8,148.3 663.9,148.3 665.1,148.3 666.3,148.3 667.5,148.3"/>
<polyline fill="none" stroke="#ffff00" stroke-width="0.72" stroke-linejoin="round" points="74.5,40.5 78.5,124.7 79.2,134.2 79.8,141.2 80.4,148.0 81.0,154.7 81.6,161.2 82.2,167.5 82.8,173.7 83.4,179.7 84.0,185.5 84.6,191.2 85.2,196.7 85.8,202.1 86.4,207.2 87.0,212.3 87.5,217.2 88.1,221.9 88.7,226.4 89.3,230.8 89.9,235.1 90.5,239.2 91.1,243.2 91.7,247.0 92.3,250.6 92.9,254.2 93.5,257.5 94.1,260.8 94.7,263.9 95.3,266.9 95.8,269.7 96.4,272.4 97.0,275.0 97.6,277.4 98.2,279.8 99.4,284.0 100.6,287.8 101.8,291.2 103.0,294.0 104.2,296.5 105.3,298.5 106.5,300.0 107.7,301.2 108.9,302.0 110.1,302.4 111.3,302.4 112.5,302.1 113.6,301.4 114.8,300.4 116.0,299.0 117.2,297.3 118.4,295.4 119.6,293.1 120.8,290.5 121.9,287.7 123.1,284.6 124.3,281.3 125.5,277.7 126.7,273.9 127.9,269.9 129.1,265.7 130.2,261.4 131.4,256.9 132.6,252.2 133.8,247.4 135.0,242.5 136.2,237.6 137.4,232.5 138.5,227.4 139.7,222.3 140.9,217.1 142.1,212.0 143.3,206.8 144.5,201.7 145.7,196.6 146.8,191.6 148.0,186.6 149.2,181.8 150.4,177.1 151.6,172.4 152.8,168.0 154.0,163.6 155.1,159.4 156.3,155.4 157.5,151.5 158.7,147.9 159.9,144.4 161.1,141.1 162.3,138.0 163.4,135.2 164.6,132.5 165.8,130.0 167.0,127.8 168.2,125.8 169.4,123.9 170.6,122.3 171.8,120.9 172.9,119.8 174.1,118.8 175.3,118.0 176.5,117.4 177.7,117.0 178.9,116.8 180.1,116.8 181.2,116.9 182.4,117.2 183.6,117.7 184.8,118.3 186.0,119.0 187.2,119.9 188.4,120.9 189.5,122.0 190.7,123.2 191.9,124.6 193.1,126.0 194.3,127.5 195.5,129.0 196.7,130.6 197.8,132.3 199.0,134.1 200.2,135.8 201.4,137.6 202.6,139.4 203.8,141.3 205.0,143.1 206.1,145.0 207.3,146.8 208.5,148.7 209.7,150.5 210.9,152.3 212.1,154.1 213.3,155.8 214.4,157.6 215.6,159.2 216.8,160.9 218.0,162.5 219.2,164.0 220.4,165.5 221.6,166.9 222.8,168.3 223.9,169.6 225.1,170.9 226.3,172.1 227.5,173.2 228.7,174.3 229.9,175.3 231.1,176.2 232.2,177.1 233.4,177.9 234.6,178.6 235.8,179.2 237.0,179.8 238.2,180.4 239.4,180.8 240.5,181.2 241.7,181.6 242.9,181.9 244.1,182.1 245.3,182.2 246.5,182.3 247.7,182.4 248.8,182.4 250.0,182.3 251.2,182.2 252.4,182.1 253.6,181.9 254.8,181.6 256.0,181.3 257.1,181.0 258.3,180.7 259.5,180.3 260.7,179.9 261.9,179.4 263.1,178.9 264.3,178.4 265.4,177.9 266.6,177.4 267.8,176.8 269.0,176.3 270.2,175.7 271.4,175.1 272.6,174.5 273.7,173.9 274.9,173.3 276.1,172.7 277.3,172.1 278.5,171.5 279.7,170.9 280.9,170.3 282.1,169.7 283.2,169.1 284.4,168.5 285.6,168.0 286.8,167.5 288.0,166.9 289.2,166.4 290.4,166.0 291.5,165.5 292.7,165.0 293.9,164.6 295.1,164.2 296.3,163.8 297.5,163.5 298.7,163.1 299.8,162.8 301.0,162.5 302.2,162.2 303.4,162.0 304.6,161.8 305.8,161.6 307.0,161.4 308.1,161.2 309.3,161.1 310.5,161.0 311.7,160.9 312.9,160.8 314.1,160.7 315.3,160.7 316.4,160.7 317.6,160.7 318.8,160.7 320.0,160.8 321.2,160.8 322.4,160.9 323.6,161.0 324.7,161.1 325.9,161.2 327.1,161.3 328.3,161.5 329.5,161.6 330.7,161.8 331.9,161.9 333.0,162.1 334.2,162.3 335.4,162.5 336.6,162.7 337.8,162.8 339.0,163.0 340.2,163.3 341.4,163.5 342.5,163.7 343.7,163.9 344.9,164.1 346.1,164.3 347.3,164.5 348.5,164.7 349.7,164.9 350.8,165.1 352.0,165.3 353.2,165.5 354.4,165.6 355.6,165.8 356.8,166.0 358.0,166.2 359.1,166.3 360.3,166.5 361.5,166.6 362.7,166.8 363.9,166.9 365.1,167.0 366.3,167.1 367.4,167.3 368.6,167.4 369.8,167.5 371.0,167.5 372.2,167.6 373.4,167.7 374.6,167.8 375.7,167.8 376.9,167.9 378.1,167.9 379.3,168.0 380.5,168.0 381.7,168.0 382.9,168.0 384.0,168.0 385.2,168.0 386.4,168.0 387.6,168.0 388.8,168.0 390.0,168.0 391.2,168.0 392.3,167.9 393.5,167.9 394.7,167.9 395.9,167.8 397.1,167.8 398.3,167.7 399.5,167.7 400.6,167.6 401.8,167.6 403.0,167.5 404.2,167.4 405.4,167.4 406.6,167.3 407.8,167.2 409.0,167.2 410.1,167.1 411.3,167.0 412.5,167.0 413.7,166.9 414.9,166.8 416.1,166.8 417.3,166.7 418.4,166.6 419.6,166.6 420.8,166.5 422.0,166.4 423.2,166.4 424.4,166.3 425.6,166.2 426.7,166.2 427.9,166.1 429.1,166.1 430.3,166.0 431.5,166.0 432.7,165.9 433.9,165.9 435.0,165.9 436.2,165.8 437.4,165.8 438.6,165.8 439.8,165.7 441.0,165.7 442.2,165.7 443.3,165.7 444.5,165.6 445.7,165.6 446.9,165.6 448.1,165.6 449.3,165.6 450.5,165.6 451.6,165.6 452.8,165.6 454.0,165.6 455.2,165.6 456.4,165.6 457.6,165.6 458.8,165.6 459.9,165.6 461.1,165.6 462.3,165.6 463.5,165.6 464.7,165.6 465.9,165.7 467.1,165.7 468.3,165.7 469.4,165.7 470.6,165.7 471.8,165.8 473.0,165.8 474.2,165.8 475.4,165.8 476.6,165.8 477.7,165.9 478.9,165.9 480.1,165.9 481.3,165.9 482.5,166.0 483.7,166.0 484.9,166.0 486.0,166.0 487.2,166.1 488.4,166.1 489.6,166.1 490.8,166.1 492.0,166.1 493.2,166.2 494.3,166.2 495.5,166.2 496.7,166.2 497.9,166.2 499.1,166.2 500.3,166.3 501.5,166.3 502.6,166.3 503.8,166.3 505.0,166.3 506.2,166.3 507.4,166.3 508.6,166.3 509.8,166.4 510.9,166.4 512.1,166.4 513.3,166.4 514.5,166.4 515.7,166.4 516.9,166.4 518.1,166.4 519.2,166.4 520.4,166.4 521.6,166.4 522.8,166.4 524.0,166.4 525.2,166.4 526.4,166.4 527.6,166.4 528.7,166.4 529.9,166.4 531.1,166.4 532.3,166.4 533.5,166.4 534.7,166.4 535.9,166.4 537.0,166.4 538.2,166.3 539.4,166.3 540.6,166.3 541.8,166.3 543.0,166.3 544.2,166.3 545.3,166.3 546.5,166.3 547.7,166.3 548.9,166.3 550.1,166.3 551.3,166.3 552.5,166.3 553.6,166.3 554.8,166.2 556.0,166.2 557.2,166.2 558.4,166.2 559.6,166.2 560.8,166.2 561.9,166.2 563.1,166.2 564.3,166.2 565.5,166.2 566.7,166.2 567.9,166.2 569.1,166.2 570.2,166.2 571.4,166.2 572.6,166.2 573.8,166.1 575.0,166.1 576.2,166.1 577.4,166.1 578.5,166.1 579.7,166.1 580.9,166.1 582.1,166.1 583.3,166.1 584.5,166.1 585.7,166.1 586.9,166.1 588.0,166.1 589.2,166.1 590.4,166.1 591.6,166.1 592.8,166.1 594.0,166.1 595.2,166.1 596.3,166.1 597.5,166.1 598.7,166.1 599.9,166.1 601.1,166.1 602.3,166.1 603.5,166.1 604.6,166.1 605.8,166.1 607.0,166.1 608.2,166.1 609.4,166.1 610.6,166.1 611.8,166.1 612.9,166.2 614.1,166.2 615.3,166.2 616.5,166.2 617.7,166.2 618.9,166.2 620.1,166.2 621.2,166.2 622.4,166.2 623.6,166.2 624.8,166.2 626.0,166.2 627.2,166.2 628.4,166.2 629.5,166.2 630.7,166.2 631.9,166.2 633.1,166.2 634.3,166.2 635.5,166.2 636.7,166.2 637.9,166.2 639.0,166.2 640.2,166.2 641.4,166.2 642.6,166.2 643.8,166.2 645.0,166.2 646.2,166.2 647.3,166.2 648.5,166.2 649.7,166.2 650.9,166.2 652.1,166.2 653.3,166.2 654.5,166.2 655.6,166.2 656.8,166.2 658.0,166.2 659.2,166.2 660.4,166.2 661.6,166.2 662.8,166.2 663.9,166.2 665.1,166.2 666.3,166.2 667.5,166.2"/>
<polyline fill="none" stroke="#000000" stroke-width="0.72" stroke-linejoin="round" points="74.5,40.5 78.5,133.9 79.2,144.7 79.8,152.5 80.4,160.2 81.0,167.7 81.6,174.9 82.2,182.0 82.8,189.0 83.4,195.7 84.0,202.2 84.6,208.5 85.2,214.7 85.8,220.7 86.4,226.5 87.0,232.1 87.5,237.5 88.1,242.8 88.7,247.9 89.3,252.8 89.9,257.6 90.5,262.1 91.1,266.6 91.7,270.8 92.3,274.9 92.9,278.9 93.5,282.6 94.1,286.3 94.7,289.8 95.3,293.1 95.8,296.3 96.4,299.3 97.0,302.2 97.6,305.0 98.2,307.6 99.4,312.5 100.6,316.8 101.8,320.7 103.0,324.1 104.2,326.9 105.3,329.4 106.5,331.4 107.7,333.0 108.9,334.1 110.1,334.9 111.3,335.2 112.5,335.2 113.6,334.8 114.8,334.0 116.0,332.9 117.2,331.4 118.4,329.6 119.6,327.4 120.8,325.0 121.9,322.3 123.1,319.2 124.3,315.9 125.5,312.3 126.7,308.5 127.9,304.4 129.1,300.1 130.2,295.6 131.4,290.9 132.6,286.1 133.8,281.0 135.0,275.9 136.2,270.6 137.4,265.2 138.5,259.7 139.7,254.1 140.9,248.5 142.1,242.8 143.3,237.1 144.5,231.5 145.7,225.8 146.8,220.2 148.0,214.7 149.2,209.2 150.4,203.8 151.6,198.6 152.8,193.4 154.0,188.4 155.1,183.5 156.3,178.8 157.5,174.3 158.7,169.9 159.9,165.7 161.1,161.8 162.3,158.0 163.4,154.5 164.6,151.2 165.8,148.1 167.0,145.3 168.2,142.7 169.4,140.3 170.6,138.1 171.8,136.2 172.9,134.5 174.1,133.1 175.3,131.8 176.5,130.8 177.7,130.0 178.9,129.5 180.1,129.1 181.2,128.9 182.4,128.9 183.6,129.2 184.8,129.5 186.0,130.1 187.2,130.8 188.4,131.7 189.5,132.7 190.7,133.8 191.9,135.1 193.1,136.4 194.3,137.9 195.5,139.5 196.7,141.2 197.8,142.9 199.0,144.7 200.2,146.5 201.4,148.5 202.6,150.4 203.8,152.4 205.0,154.4 206.1,156.4 207.3,158.5 208.5,160.5 209.7,162.5 210.9,164.6 212.1,166.6 213.3,168.6 214.4,170.5 215.6,172.5 216.8,174.3 218.0,176.2 219.2,178.0 220.4,179.7 221.6,181.4 222.8,183.1 223.9,184.7 225.1,186.2 226.3,187.6 227.5,189.0 228.7,190.3 229.9,191.6 231.1,192.8 232.2,193.9 233.4,194.9 234.6,195.9 235.8,196.8 237.0,197.6 238.2,198.4 239.4,199.0 240.5,199.7 241.7,200.2 242.9,200.7 244.1,201.1 245.3,201.4 246.5,201.7 247.7,201.9 248.8,202.0 250.0,202.1 251.2,202.1 252.4,202.1 253.6,202.0 254.8,201.9 256.0,201.7 257.1,201.4 258.3,201.1 259.5,200.8 260.7,200.5 261.9,200.1 263.1,199.6 264.3,199.2 265.4,198.7 266.6,198.1 267.8,197.6 269.0,197.0 270.2,196.4 271.4,195.8 272.6,195.2 273.7,194.5 274.9,193.9 276.1,193.2 277.3,192.6 278.5,191.9 279.7,191.2 280.9,190.6 282.1,189.9 283.2,189.3 284.4,188.6 285.6,188.0 286.8,187.4 288.0,186.8 289.2,186.2 290.4,185.6 291.5,185.0 292.7,184.5 293.9,183.9 295.1,183.4 296.3,182.9 297.5,182.5 298.7,182.0 299.8,181.6 301.0,181.2 302.2,180.8 303.4,180.5 304.6,180.1 305.8,179.8 307.0,179.5 308.1,179.3 309.3,179.1 310.5,178.9 311.7,178.7 312.9,178.5 314.1,178.4 315.3,178.3 316.4,178.2 317.6,178.1 318.8,178.1 320.0,178.1 321.2,178.1 322.4,178.1 323.6,178.1 324.7,178.2 325.9,178.3 327.1,178.3 328.3,178.4 329.5,178.6 330.7,178.7 331.9,178.8 333.0,179.0 334.2,179.2 335.4,179.3 336.6,179.5 337.8,179.7 339.0,179.9 340.2,180.1 341.4,180.3 342.5,180.5 343.7,180.8 344.9,181.0 346.1,181.2 347.3,181.4 348.5,181.6 349.7,181.9 350.8,182.1 352.0,182.3 353.2,182.5 354.4,182.7 355.6,183.0 356.8,183.2 358.0,183.4 359.1,183.6 360.3,183.8 361.5,183.9 362.7,184.1 363.9,184.3 365.1,184.5 366.3,184.6 367.4,184.8 368.6,184.9 369.8,185.1 371.0,185.2 372.2,185.3 373.4,185.4 374.6,185.5 375.7,185.6 376.9,185.7 378.1,185.8 379.3,185.9 380.5,185.9 381.7,186.0 382.9,186.0 384.0,186.1 385.2,186.1 386.4,186.1 387.6,186.2 388.8,186.2 390.0,186.2 391.2,186.2 392.3,186.2 393.5,186.1 394.7,186.1 395.9,186.1 397.1,186.1 398.3,186.0 399.5,186.0 400.6,186.0 401.8,185.9 403.0,185.8 404.2,185.8 405.4,185.7 406.6,185.7 407.8,185.6 409.0,185.5 410.1,185.5 411.3,185.4 412.5,185.3 413.7,185.3 414.9,185.2 416.1,185.1 417.3,185.0 418.4,185.0 419.6,184.9 420.8,184.8 422.0,184.7 423.2,184.7 424.4,184.6 425.6,184.5 426.7,184.5 427.9,184.4 429.1,184.3 430.3,184.3 431.5,184.2 432.7,184.1 433.9,184.1 435.0,184.0 436.2,184.0 437.4,183.9 438.6,183.9 439.8,183.8 441.0,183.8 442.2,183.7 443.3,183.7 444.5,183.7 445.7,183.6 446.9,183.6 448.1,183.6 449.3,183.6 450.5,183.5 451.6,183.5 452.8,183.5 454.0,183.5 455.2,183.5 456.4,183.5 457.6,183.5 458.8,183.5 459.9,183.5 461.1,183.5 462.3,183.5 463.5,183.5 464.7,183.5 465.9,183.5 467.1,183.5 468.3,183.5 469.4,183.5 470.6,183.5 471.8,183.6 473.0,183.6 474.2,183.6 475.4,183.6 476.6,183.6 477.7,183.7 478.9,183.7 480.1,183.7 481.3,183.7 482.5,183.8 483.7,183.8 484.9,183.8 486.0,183.8 487.2,183.9 488.4,183.9 489.6,183.9 490.8,183.9 492.0,184.0 493.2,184.0 494.3,184.0 495.5,184.0 496.7,184.1 497.9,184.1 499.1,184.1 500.3,184.1 501.5,184.1 502.6,184.2 503.8,184.2 505.0,184.2 506.2,184.2 507.4,184.2 508.6,184.2 509.8,184.3 510.9,184.3 512.1,184.3 513.3,184.3 514.5,184.3 515.7,184.3 516.9,184.3 518.1,184.3 519.2,184.3 520.4,184.4 521.6,184.4 522.8,184.4 524.0,184.4 525.2,184.4 526.4,184.4 527.6,184.4 528.7,184.4 529.9,184.4 531.1,184.4 532.3,184.4 533.5,184.4 534.7,184.4 535.9,184.4 537.0,184.4 538.2,184.4 539.4,184.4 540.6,184.3 541.8,184.3 543.0,184.3 544.2,184.3 545.3,184.3 546.5,184.3 547.7,184.3 548.9,184.3 550.1,184.3 551.3,184.3 552.5,184.3 553.6,184.3 554.8,184.3 556.0,184.2 557.2,184.2 558.4,184.2 559.6,184.2 560.8,184.2 561.9,184.2 563.1,184.2 564.3,184.2 565.5,184.2 566.7,184.2 567.9,184.2 569.1,184.2 570.2,184.2 571.4,184.1 572.6,184.1 573.8,184.1 575.0,184.1 576.2,184.1 577.4,184.1 578.5,184.1 579.7,184.1 580.9,184.1 582.1,184.1 583.3,184.1 584.5,184.1 585.7,184.1 586.9,184.1 588.0,184.1 589.2,184.1 590.4,184.1 591.6,184.1 592.8,184.1 594.0,184.1 595.2,184.1 596.3,184.1 597.5,184.1 598.7,184.1 599.9,184.1 601.1,184.1 602.3,184.1 603.5,184.1 604.6,184.1 605.8,184.1 607.0,184.1 608.2,184.1 609.4,184.1 610.6,184.1 611.8,184.1 612.9,184.1 614.1,184.1 615.3,184.1 616.5,184.1 617.7,184.1 618.9,184.1 620.1,184.1 621.2,184.1 622.4,184.1 623.6,184.1 624.8,184.1 626.0,184.1 627.2,184.1 628.4,184.1 629.5,184.1 630.7,184.1 631.9,184.1 633.1,184.1 634.3,184.1 635.5,184.1 636.7,184.1 637.9,184.1 639.0,184.1 640.2,184.1 641.4,184.1 642.6,184.2 643.8,184.2 645.0,184.2 646.2,184.2 647.3,184.2 648.5,184.2 649.7,184.2 650.9,184.2 652.1,184.2 653.3,184.2 654.5,184.2 655.6,184.2 656.8,184.2 658.0,184.2 659.2,184.2 660.4,184.2 661.6,184.2 662.8,184.2 663.9,184.2 665.1,184.2 666.3,184.2 667.5,184.2"/>
<polyline fill="none" stroke="#ff4c00" stroke-width="0.72" stroke-linejoin="round" points="74.5,40.5 78.5,143.1 79.2,155.3 79.8,164.3 80.4,173.0 81.0,181.5 81.6,189.7 82.2,197.7 82.8,205.5 83.4,213.1 84.0,220.5 84.6,227.6 85.2,234.5 85.8,241.2 86.4,247.7 87.0,253.9 87.5,260.0 88.1,265.9 88.7,271.5 89.3,276.9 89.9,282.2 90.5,287.3 91.1,292.1 91.7,296.8 92.3,301.3 92.9,305.6 93.5,309.8 94.1,313.7 94.7,317.5 95.3,321.2 95.8,324.6 96.4,327.9 97.0,331.1 97.6,334.1 98.2,336.9 99.4,342.2 100.6,346.9 101.8,351.1 103.0,354.8 104.2,357.9 105.3,360.6 106.5,362.8 107.7,364.6 108.9,366.0 110.1,366.9 111.3,367.4 112.5,367.6 113.6,367.4 114.8,366.7 116.0,365.8 117.2,364.4 118.4,362.8 119.6,360.8 120.8,358.5 121.9,355.8 123.1,352.9 124.3,349.7 125.5,346.1 126.7,342.3 127.9,338.3 129.1,334.0 130.2,329.4 131.4,324.7 132.6,319.7 133.8,314.6 135.0,309.2 136.2,303.7 137.4,298.1 138.5,292.4 139.7,286.5 140.9,280.5 142.1,274.5 143.3,268.5 144.5,262.4 145.7,256.3 146.8,250.2 148.0,244.1 149.2,238.1 150.4,232.2 151.6,226.3 152.8,220.6 154.0,214.9 155.1,209.4 156.3,204.0 157.5,198.8 158.7,193.8 159.9,189.0 161.1,184.4 162.3,179.9 163.4,175.7 164.6,171.8 165.8,168.0 167.0,164.5 168.2,161.3 169.4,158.3 170.6,155.5 171.8,153.0 172.9,150.8 174.1,148.8 175.3,147.0 176.5,145.5 177.7,144.2 178.9,143.2 180.1,142.4 181.2,141.9 182.4,141.6 183.6,141.4 184.8,141.5 186.0,141.8 187.2,142.3 188.4,142.9 189.5,143.7 190.7,144.7 191.9,145.8 193.1,147.1 194.3,148.5 195.5,150.0 196.7,151.7 197.8,153.4 199.0,155.2 200.2,157.1 201.4,159.1 202.6,161.1 203.8,163.2 205.0,165.3 206.1,167.5 207.3,169.7 208.5,171.9 209.7,174.1 210.9,176.3 212.1,178.5 213.3,180.7 214.4,182.9 215.6,185.0 216.8,187.2 218.0,189.2 219.2,191.3 220.4,193.3 221.6,195.2 222.8,197.1 223.9,198.9 225.1,200.7 226.3,202.4 227.5,204.1 228.7,205.6 229.9,207.1 231.1,208.6 232.2,209.9 233.4,211.2 234.6,212.4 235.8,213.5 237.0,214.6 238.2,215.6 239.4,216.5 240.5,217.3 241.7,218.0 242.9,218.7 244.1,219.3 245.3,219.8 246.5,220.3 247.7,220.7 248.8,221.0 250.0,221.2 251.2,221.4 252.4,221.5 253.6,221.6 254.8,221.5 256.0,221.5 257.1,221.4 258.3,221.2 259.5,220.9 260.7,220.7 261.9,220.3 263.1,220.0 264.3,219.6 265.4,219.1 266.6,218.7 267.8,218.1 269.0,217.6 270.2,217.0 271.4,216.4 272.6,215.8 273.7,215.2 274.9,214.5 276.1,213.8 277.3,213.2 278.5,212.5 279.7,211.8 280.9,211.1 282.1,210.4 283.2,209.7 284.4,208.9 285.6,208.2 286.8,207.6 288.0,206.9 289.2,206.2 290.4,205.5 291.5,204.9 292.7,204.2 293.9,203.6 295.1,203.0 296.3,202.4 297.5,201.9 298.7,201.3 299.8,200.8 301.0,200.3 302.2,199.8 303.4,199.4 304.6,199.0 305.8,198.6 307.0,198.2 308.1,197.8 309.3,197.5 310.5,197.2 311.7,196.9 312.9,196.7 314.1,196.5 315.3,196.3 316.4,196.1 317.6,196.0 318.8,195.8 320.0,195.7 321.2,195.7 322.4,195.6 323.6,195.6 324.7,195.6 325.9,195.6 327.1,195.6 328.3,195.7 329.5,195.8 330.7,195.8 331.9,195.9 333.0,196.1 334.2,196.2 335.4,196.3 336.6,196.5 337.8,196.7 339.0,196.9 340.2,197.0 341.4,197.2 342.5,197.5 343.7,197.7 344.9,197.9 346.1,198.1 347.3,198.3 348.5,198.6 349.7,198.8 350.8,199.0 352.0,199.3 353.2,199.5 354.4,199.8 355.6,200.0 356.8,200.2 358.0,200.4 359.1,200.7 360.3,200.9 361.5,201.1 362.7,201.3 363.9,201.5 365.1,201.7 366.3,201.9 367.4,202.1 368.6,202.3 369.8,202.5 371.0,202.6 372.2,202.8 373.4,203.0 374.6,203.1 375.7,203.2 376.9,203.4 378.1,203.5 379.3,203.6 380.5,203.7 381.7,203.8 382.9,203.9 384.0,203.9 385.2,204.0 386.4,204.1 387.6,204.1 388.8,204.2 390.0,204.2 391.2,204.2 392.3,204.2 393.5,204.2 394.7,204.3 395.9,204.3 397.1,204.2 398.3,204.2 399.5,204.2 400.6,204.2 401.8,204.2 403.0,204.1 404.2,204.1 405.4,204.0 406.6,204.0 407.8,203.9 409.0,203.9 410.1,203.8 411.3,203.7 412.5,203.7 413.7,203.6 414.9,203.5 416.1,203.5 417.3,203.4 418.4,203.3 419.6,203.2 420.8,203.2 422.0,203.1 423.2,203.0 424.4,202.9 425.6,202.8 426.7,202.8 427.9,202.7 429.1,202.6 430.3,202.5 431.5,202.5 432.7,202.4 433.9,202.3 435.0,202.3 436.2,202.2 437.4,202.1 438.6,202.1 439.8,202.0 441.0,201.9 442.2,201.9 443.3,201.8 444.5,201.8 445.7,201.7 446.9,201.7 448.1,201.7 449.3,201.6 450.5,201.6 451.6,201.6 452.8,201.5 454.0,201.5 455.2,201.5 456.4,201.5 457.6,201.4 458.8,201.4 459.9,201.4 461.1,201.4 462.3,201.4 463.5,201.4 464.7,201.4 465.9,201.4 467.1,201.4 468.3,201.4 469.4,201.4 470.6,201.4 471.8,201.4 473.0,201.4 474.2,201.4 475.4,201.5 476.6,201.5 477.7,201.5 478.9,201.5 480.1,201.5 481.3,201.6 482.5,201.6 483.7,201.6 484.9,201.6 486.0,201.6 487.2,201.7 488.4,201.7 489.6,201.7 490.8,201.7 492.0,201.8 493.2,201.8 494.3,201.8 495.5,201.8 496.7,201.9 497.9,201.9 499.1,201.9 500.3,201.9 501.5,202.0 502.6,202.0 503.8,202.0 505.0,202.0 506.2,202.1 507.4,202.1 508.6,202.1 509.8,202.1 510.9,202.1 512.1,202.2 513.3,202.2 514.5,202.2 515.7,202.2 516.9,202.2 518.1,202.2 519.2,202.3 520.4,202.3 521.6,202.3 522.8,202.3 524.0,202.3 525.2,202.3 526.4,202.3 527.6,202.3 528.7,202.3 529.9,202.3 531.1,202.3 532.3,202.3 533.5,202.3 534.7,202.3 535.9,202.3 537.0,202.3 538.2,202.3 539.4,202.3 540.6,202.3 541.8,202.3 543.0,202.3 544.2,202.3 545.3,202.3 546.5,202.3 547.7,202.3 548.9,202.3 550.1,202.3 551.3,202.3 552.5,202.3 553.6,202.3 554.8,202.3 556.0,202.3 557.2,202.3 558.4,202.2 559.6,202.2 560.8,202.2 561.9,202.2 563.1,202.2 564.3,202.2 565.5,202.2 566.7,202.2 567.9,202.2 569.1,202.2 570.2,202.2 571.4,202.1 572.6,202.1 573.8,202.1 575.0,202.1 576.2,202.1 577.4,202.1 578.5,202.1 579.7,202.1 580.9,202.1 582.1,202.1 583.3,202.1 584.5,202.1 585.7,202.1 586.9,202.1 588.0,202.1 589.2,202.1 590.4,202.1 591.6,202.0 592.8,202.0 594.0,202.0 595.2,202.0 596.3,202.0 597.5,202.0 598.7,202.0 599.9,202.0 601.1,202.0 602.3,202.0 603.5,202.0 604.6,202.0 605.8,202.0 607.0,202.0 608.2,202.0 609.4,202.0 610.6,202.0 611.8,202.0 612.9,202.0 614.1,202.0 615.3,202.0 616.5,202.0 617.7,202.0 618.9,202.0 620.1,202.0 621.2,202.0 622.4,202.0 623.6,202.0 624.8,202.0 626.0,202.1 627.2,202.1 628.4,202.1 629.5,202.1 630.7,202.1 631.9,202.1 633.1,202.1 634.3,202.1 635.5,202.1 636.7,202.1 637.9,202.1 639.0,202.1 640.2,202.1 641.4,202.1 642.6,202.1 643.8,202.1 645.0,202.1 646.2,202.1 647.3,202.1 648.5,202.1 649.7,202.1 650.9,202.1 652.1,202.1 653.3,202.1 654.5,202.1 655.6,202.1 656.8,202.1 658.0,202.1 659.2,202.1 660.4,202.1 661.6,202.1 662.8,202.1 663.9,202.1 665.1,202.1 666.3,202.1 667.5,202.1"/>
<polyline fill="none" stroke="#808080" stroke-width="0.72" stroke-linejoin="round" points="74.5,40.5 78.5,150.3 79.2,163.9 79.8,173.8 80.4,183.4 81.0,192.8 81.6,201.9 82.2,210.7 82.8,219.3 83.4,227.7 84.0,235.7 84.6,243.6 85.2,251.1 85.8,258.5 86.4,265.6 87.0,272.4 87.5,279.0 88.1,285.4 88.7,291.6 89.3,297.5 89.9,303.2 90.5,308.8 91.1,314.0 91.7,319.1 92.3,324.0 92.9,328.7 93.5,333.2 94.1,337.5 94.7,341.7 95.3,345.6 95.8,349.4 96.4,353.0 97.0,356.4 97.6,359.7 98.2,362.8 99.4,368.6 100.6,373.7 101.8,378.3 103.0,382.4 104.2,386.0 105.3,389.0 106.5,391.6 107.7,393.8 108.9,395.5 110.1,396.7 111.3,397.6 112.5,398.0 113.6,398.1 114.8,397.8 116.0,397.1 117.2,396.1 118.4,394.7 119.6,393.0 120.8,390.9 121.9,388.5 123.1,385.7 124.3,382.7 125.5,379.3 126.7,375.7 127.9,371.7 129.1,367.5 130.2,363.0 131.4,358.3 132.6,353.3 133.8,348.0 135.0,342.6 136.2,337.0 137.4,331.2 138.5,325.2 139.7,319.1 140.9,312.9 142.1,306.6 143.3,300.2 144.5,293.7 145.7,287.2 146.8,280.6 148.0,274.1 149.2,267.6 150.4,261.1 151.6,254.6 152.8,248.3 154.0,242.1 155.1,235.9 156.3,229.9 157.5,224.1 158.7,218.4 159.9,212.9 161.1,207.6 162.3,202.6 163.4,197.7 164.6,193.1 165.8,188.7 167.0,184.5 168.2,180.6 169.4,177.0 170.6,173.7 171.8,170.6 172.9,167.8 174.1,165.2 175.3,162.9 176.5,160.9 177.7,159.2 178.9,157.7 180.1,156.5 181.2,155.6 182.4,154.8 183.6,154.4 184.8,154.1 186.0,154.1 187.2,154.3 188.4,154.8 189.5,155.4 190.7,156.2 191.9,157.1 193.1,158.3 194.3,159.6 195.5,161.0 196.7,162.6 197.8,164.3 199.0,166.1 200.2,168.0 201.4,170.0 202.6,172.1 203.8,174.3 205.0,176.5 206.1,178.8 207.3,181.1 208.5,183.4 209.7,185.8 210.9,188.1 212.1,190.5 213.3,192.9 214.4,195.2 215.6,197.6 216.8,199.9 218.0,202.2 219.2,204.5 220.4,206.7 221.6,208.9 222.8,211.0 223.9,213.1 225.1,215.1 226.3,217.0 227.5,218.9 228.7,220.7 229.9,222.4 231.1,224.1 232.2,225.7 233.4,227.2 234.6,228.7 235.8,230.0 237.0,231.3 238.2,232.5 239.4,233.6 240.5,234.6 241.7,235.6 242.9,236.5 244.1,237.2 245.3,238.0 246.5,238.6 247.7,239.2 248.8,239.6 250.0,240.0 251.2,240.4 252.4,240.6 253.6,240.8 254.8,240.9 256.0,241.0 257.1,241.0 258.3,240.9 259.5,240.8 260.7,240.6 261.9,240.4 263.1,240.1 264.3,239.8 265.4,239.4 266.6,239.0 267.8,238.5 269.0,238.0 270.2,237.4 271.4,236.9 272.6,236.3 273.7,235.6 274.9,235.0 276.1,234.3 277.3,233.6 278.5,232.9 279.7,232.2 280.9,231.4 282.1,230.7 283.2,230.0 284.4,229.2 285.6,228.5 286.8,227.7 288.0,227.0 289.2,226.2 290.4,225.5 291.5,224.8 292.7,224.0 293.9,223.3 295.1,222.7 296.3,222.0 297.5,221.3 298.7,220.7 299.8,220.1 301.0,219.5 302.2,218.9 303.4,218.4 304.6,217.9 305.8,217.4 307.0,216.9 308.1,216.5 309.3,216.1 310.5,215.7 311.7,215.3 312.9,215.0 314.1,214.7 315.3,214.4 316.4,214.2 317.6,213.9 318.8,213.7 320.0,213.6 321.2,213.4 322.4,213.3 323.6,213.2 324.7,213.1 325.9,213.1 327.1,213.1 328.3,213.1 329.5,213.1 330.7,213.1 331.9,213.2 333.0,213.3 334.2,213.4 335.4,213.5 336.6,213.6 337.8,213.8 339.0,213.9 340.2,214.1 341.4,214.3 342.5,214.5 343.7,214.7 344.9,214.9 346.1,215.1 347.3,215.3 348.5,215.6 349.7,215.8 350.8,216.1 352.0,216.3 353.2,216.5 354.4,216.8 355.6,217.0 356.8,217.3 358.0,217.6 359.1,217.8 360.3,218.0 361.5,218.3 362.7,218.5 363.9,218.8 365.1,219.0 366.3,219.2 367.4,219.4 368.6,219.7 369.8,219.9 371.0,220.1 372.2,220.3 373.4,220.4 374.6,220.6 375.7,220.8 376.9,220.9 378.1,221.1 379.3,221.2 380.5,221.4 381.7,221.5 382.9,221.6 384.0,221.7 385.2,221.8 386.4,221.9 387.6,222.0 388.8,222.1 390.0,222.1 391.2,222.2 392.3,222.2 393.5,222.3 394.7,222.3 395.9,222.3 397.1,222.3 398.3,222.4 399.5,222.4 400.6,222.3 401.8,222.3 403.0,222.3 404.2,222.3 405.4,222.3 406.6,222.2 407.8,222.2 409.0,222.1 410.1,222.1 411.3,222.0 412.5,222.0 413.7,221.9 414.9,221.8 416.1,221.8 417.3,221.7 418.4,221.6 419.6,221.5 420.8,221.5 422.0,221.4 423.2,221.3 424.4,221.2 425.6,221.1 426.7,221.1 427.9,221.0 429.1,220.9 430.3,220.8 431.5,220.7 432.7,220.6 433.9,220.6 435.0,220.5 436.2,220.4 437.4,220.3 438.6,220.3 439.8,220.2 441.0,220.1 442.2,220.1 443.3,220.0 444.5,219.9 445.7,219.9 446.9,219.8 448.1,219.8 449.3,219.7 450.5,219.7 451.6,219.6 452.8,219.6 454.0,219.5 455.2,219.5 456.4,219.5 457.6,219.4 458.8,219.4 459.9,219.4 461.1,219.4 462.3,219.4 463.5,219.3 464.7,219.3 465.9,219.3 467.1,219.3 468.3,219.3 469.4,219.3 470.6,219.3 471.8,219.3 473.0,219.3 474.2,219.3 475.4,219.3 476.6,219.3 477.7,219.3 478.9,219.4 480.1,219.4 481.3,219.4 482.5,219.4 483.7,219.4 484.9,219.5 486.0,219.5 487.2,219.5 488.4,219.5 489.6,219.5 490.8,219.6 492.0,219.6 493.2,219.6 494.3,219.6 495.5,219.7 496.7,219.7 497.9,219.7 499.1,219.8 500.3,219.8 501.5,219.8 502.6,219.8 503.8,219.9 505.0,219.9 506.2,219.9 507.4,219.9 508.6,220.0 509.8,220.0 510.9,220.0 512.1,220.0 513.3,220.1 514.5,220.1 515.7,220.1 516.9,220.1 518.1,220.1 519.2,220.2 520.4,220.2 521.6,220.2 522.8,220.2 524.0,220.2 525.2,220.2 526.4,220.2 527.6,220.3 528.7,220.3 529.9,220.3 531.1,220.3 532.3,220.3 533.5,220.3 534.7,220.3 535.9,220.3 537.0,220.3 538.2,220.3 539.4,220.3 540.6,220.3 541.8,220.3 543.0,220.3 544.2,220.3 545.3,220.3 546.5,220.3 547.7,220.3 548.9,220.3 550.1,220.3 551.3,220.3 552.5,220.3 553.6,220.3 554.8,220.3 556.0,220.3 557.2,220.3 558.4,220.2 559.6,220.2 560.8,220.2 561.9,220.2 563.1,220.2 564.3,220.2 565.5,220.2 566.7,220.2 567.9,220.2 569.1,220.2 570.2,220.2 571.4,220.2 572.6,220.1 573.8,220.1 575.0,220.1 576.2,220.1 577.4,220.1 578.5,220.1 579.7,220.1 580.9,220.1 582.1,220.1 583.3,220.1 584.5,220.1 585.7,220.1 586.9,220.0 588.0,220.0 589.2,220.0 590.4,220.0 591.6,220.0 592.8,220.0 594.0,220.0 595.2,220.0 596.3,220.0 597.5,220.0 598.7,220.0 599.9,220.0 601.1,220.0 602.3,220.0 603.5,220.0 604.6,220.0 605.8,220.0 607.0,220.0 608.2,220.0 609.4,220.0 610.6,220.0 611.8,220.0 612.9,220.0 614.1,220.0 615.3,220.0 616.5,220.0 617.7,220.0 618.9,220.0 620.1,220.0 621.2,220.0 622.4,220.0 623.6,220.0 624.8,220.0 626.0,220.0 627.2,220.0 628.4,220.0 629.5,220.0 630.7,220.0 631.9,220.0 633.1,220.0 634.3,220.0 635.5,220.0 636.7,220.0 637.9,220.0 639.0,220.0 640.2,220.0 641.4,220.0 642.6,220.0 643.8,220.0 645.0,220.0 646.2,220.0 647.3,220.0 648.5,220.0 649.7,220.0 650.9,220.0 652.1,220.1 653.3,220.1 654.5,220.1 655.6,220.1 656.8,220.1 658.0,220.1 659.2,220.1 660.4,220.1 661.6,220.1 662.8,220.1 663.9,220.1 665.1,220.1 666.3,220.1 667.5,220.1"/>
<text x="605.35" y="58.0" text-anchor="end" textLength="66.0" lengthAdjust="spacing">rho = -0.01</text>
<line x1="613" y1="53.4" x2="651.6" y2="53.4" stroke="#000000" stroke-width="0.72"/>
<text x="605.35" y="71.1" text-anchor="end" textLength="66.0" lengthAdjust="spacing">rho = -0.02</text>
<line x1="613" y1="66.5" x2="651.6" y2="66.5" stroke="#ff0000" stroke-width="0.72"/>
<text x="605.35" y="84.9" text-anchor="end" textLength="66.0" lengthAdjust="spacing">rho = -0.03</text>
<line x1="613" y1="80.3" x2="651.6" y2="80.3" stroke="#00ff00" stroke-width="0.72"/>
<text x="605.35" y="98.1" text-anchor="end" textLength="66.0" lengthAdjust="spacing">rho = -0.04</text>
<line x1="613" y1="93.5" x2="651.6" y2="93.5" stroke="#0000ff" stroke-width="0.72"/>
<text x="605.35" y="111.7" text-anchor="end" textLength="66.0" lengthAdjust="spacing">rho = -0.05</text>
<line x1="613" y1="107.1" x2="651.6" y2="107.1" stroke="#ff00ff" stroke-width="0.72"/>
<text x="605.35" y="125.1" text-anchor="end" textLength="66.0" lengthAdjust="spacing">rho = -0.06</text>
<line x1="613" y1="120.5" x2="651.6" y2="120.5" stroke="#00ffff" stroke-width="0.72"/>
<text x="605.35" y="138.6" text-anchor="end" textLength="66.0" lengthAdjust="spacing">rho = -0.07</text>
<line x1="613" y1="134.0" x2="651.6" y2="134.0" stroke="#ffff00" stroke-width="0.72"/>
<text x="605.35" y="152.1" text-anchor="end" textLength="66.0" lengthAdjust="spacing">rho = -0.08</text>
<line x1="613" y1="147.5" x2="651.6" y2="147.5" stroke="#000000" stroke-width="0.72"/>
<text x="605.35" y="165.6" text-anchor="end" textLength="66.0" lengthAdjust="spacing">rho = -0.09</text>
<line x1="613" y1="161.0" x2="651.6" y2="161.0" stroke="#ff4c00" stroke-width="0.72"/>
<text x="604.9" y="179.1" text-anchor="end">rho = -0.1</text>
<line x1="613" y1="174.5" x2="651.6" y2="174.5" stroke="#808080" stroke-width="0.72"/>
<text x="75.9" y="459.65" text-anchor="middle">0</text>
<text x="135.2" y="459.65" text-anchor="middle">100</text>
<text x="194.6" y="459.65" text-anchor="middle">200</text>
<text x="254.0" y="459.65" text-anchor="middle">300</text>
<text x="313.3" y="459.65" text-anchor="middle">400</text>
<text x="372.7" y="459.65" text-anchor="middle">500</text>
<text x="432.1" y="459.65" text-anchor="middle">600</text>
<text x="491.5" y="459.65" text-anchor="middle">700</text>
<text x="550.9" y="459.65" text-anchor="middle">800</text>
<text x="610.2" y="459.65" text-anchor="middle">900</text>
<text x="669.6" y="459.65" text-anchor="middle">1000</text>
<text x="66" y="44.4" text-anchor="end">0</text>
<text x="66" y="89.0" text-anchor="end">-0.05</text>
<text x="66" y="133.6" text-anchor="end">-0.1</text>
<text x="66" y="178.2" text-anchor="end">-0.15</text>
<text x="66" y="222.8" text-anchor="end">-0.2</text>
<text x="66" y="267.3" text-anchor="end">-0.25</text>
<text x="66" y="311.9" text-anchor="end">-0.3</text>
<text x="66" y="356.5" text-anchor="end">-0.35</text>
<text x="66" y="401.1" text-anchor="end">-0.4</text>
<text x="66" y="445.7" text-anchor="end">-0.45</text>
<text x="370.5" y="480.1" text-anchor="middle">time [s]</text>
<text transform="translate(15.3,240.9) rotate(-90)" text-anchor="middle" textLength="258.6" lengthAdjust="spacing">deviation from previous steady state [times]</text>
</svg>
</body></html>
